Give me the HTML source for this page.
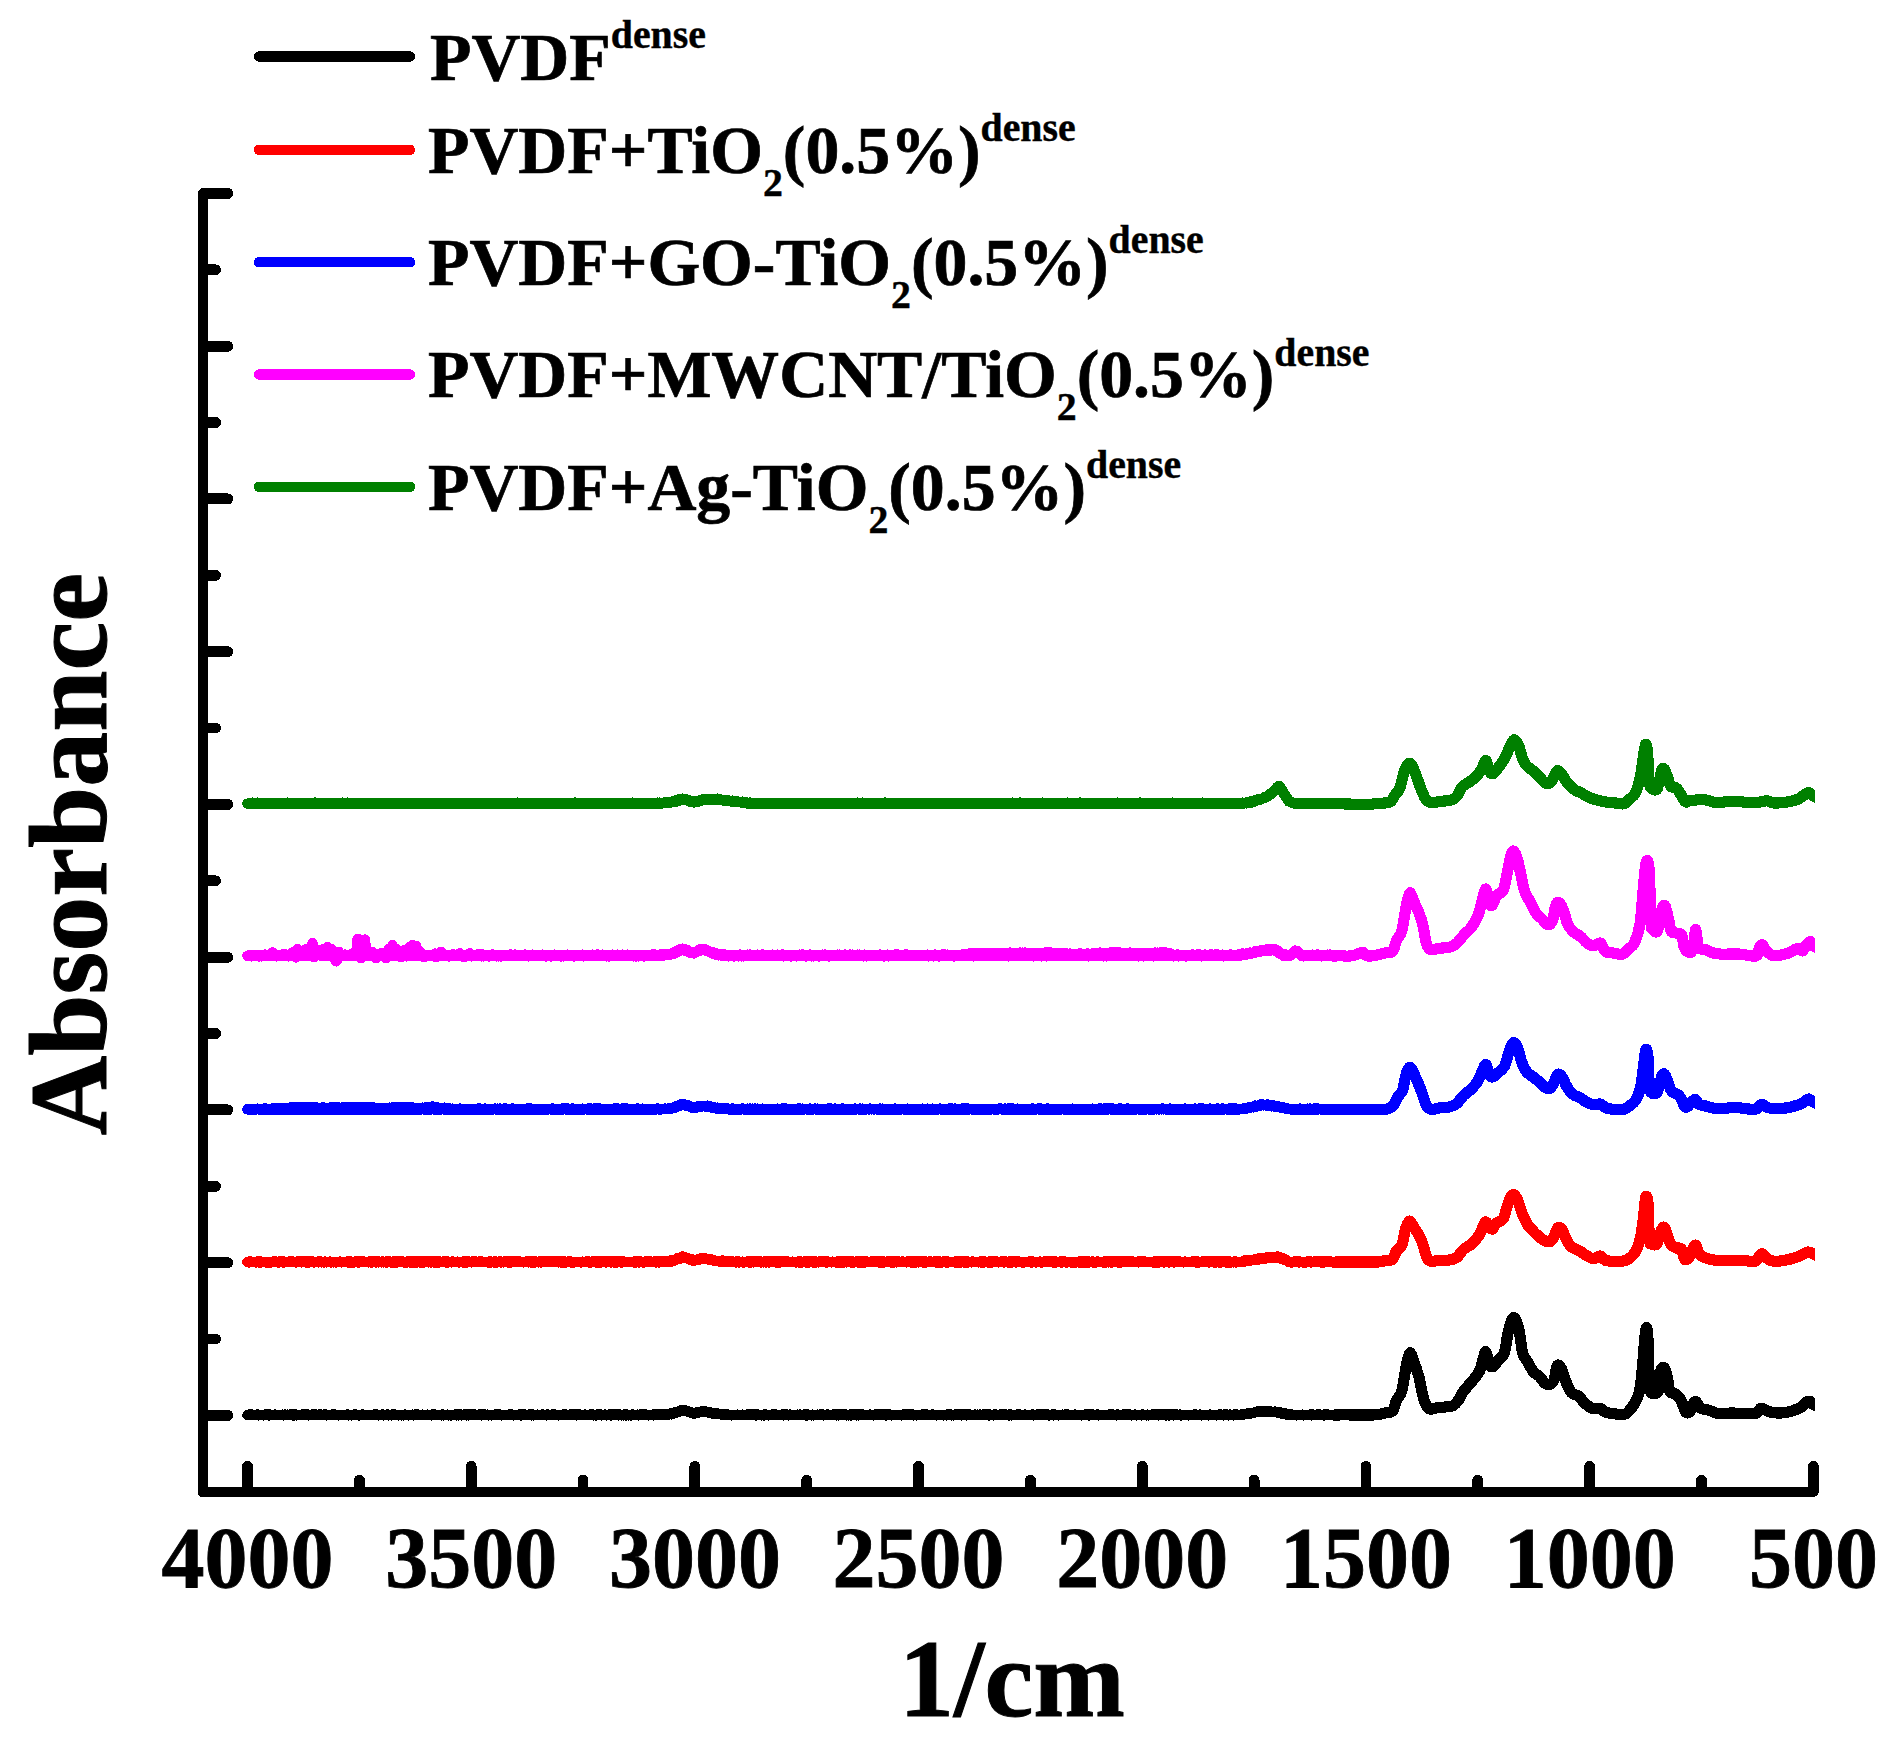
<!DOCTYPE html>
<html lang="en"><head><meta charset="utf-8"><title>FTIR Absorbance – PVDF dense membranes</title>
<style>
html,body{margin:0;padding:0;background:#fff;}
body{width:1902px;height:1756px;overflow:hidden;}
svg{display:block;}
text{font-family:"Liberation Serif",serif;font-weight:bold;fill:#000;}
.tk{font-size:86px;text-anchor:middle;stroke:#000;stroke-width:0.8px;}
.lg{font-size:67.8px;stroke:#000;stroke-width:0.7px;}
.ss{font-size:39.8px;stroke-width:0.4px;}
.ttl{font-size:110px;text-anchor:middle;stroke:#000;stroke-width:1px;}
</style></head><body>
<svg width="1902" height="1756" viewBox="0 0 1902 1756">
<rect width="1902" height="1756" fill="#fff"/>
<g fill="none" stroke="#000" stroke-linecap="round" stroke-linejoin="round" shape-rendering="crispEdges">
<path stroke-width="10" d="M202.9 193.4 V1491.9 H1813.5"/>
<path stroke="none" fill="#000" d="M197.9 1488 H208 V1496.9 H200 L197.9 1494.8 Z"/>
<g stroke-width="10.9">
<path d="M203.4 1415.4 H227.8"/>
<path d="M203.4 1339.0 H215.5"/>
<path d="M203.4 1262.7 H227.8"/>
<path d="M203.4 1186.3 H215.5"/>
<path d="M203.4 1109.9 H227.8"/>
<path d="M203.4 1033.5 H215.5"/>
<path d="M203.4 957.2 H227.8"/>
<path d="M203.4 880.8 H215.5"/>
<path d="M203.4 804.4 H227.8"/>
<path d="M203.4 728.0 H215.5"/>
<path d="M203.4 651.7 H227.8"/>
<path d="M203.4 575.3 H215.5"/>
<path d="M203.4 498.9 H227.8"/>
<path d="M203.4 422.5 H215.5"/>
<path d="M203.4 346.2 H227.8"/>
<path d="M203.4 269.8 H215.5"/>
<path d="M203.4 193.4 H227.8"/>
<path d="M247.5 1491.4 V1466.4"/>
<path d="M359.4 1491.4 V1480.2"/>
<path d="M471.2 1491.4 V1466.4"/>
<path d="M583.0 1491.4 V1480.2"/>
<path d="M694.9 1491.4 V1466.4"/>
<path d="M806.8 1491.4 V1480.2"/>
<path d="M918.6 1491.4 V1466.4"/>
<path d="M1030.4 1491.4 V1480.2"/>
<path d="M1142.3 1491.4 V1466.4"/>
<path d="M1254.1 1491.4 V1480.2"/>
<path d="M1366.0 1491.4 V1466.4"/>
<path d="M1477.8 1491.4 V1480.2"/>
<path d="M1589.7 1491.4 V1466.4"/>
<path d="M1701.5 1491.4 V1480.2"/>
<path d="M1813.4 1491.4 V1466.4"/>
</g></g>
<defs><clipPath id="plotclip"><rect x="200" y="150" width="1614.9" height="1340"/></clipPath></defs>
<g fill="none" stroke-width="10.5" stroke-linecap="round" stroke-linejoin="round" clip-path="url(#plotclip)" shape-rendering="crispEdges">
<path stroke="#000000" d="M247.5 1415.0L248.8 1415.2L250.0 1414.4L251.2 1415.2L252.5 1414.7L253.8 1415.2L255.0 1414.9L256.2 1415.2L257.5 1414.6L258.8 1415.3L260.0 1414.9L261.2 1415.1L262.5 1414.9L263.8 1415.3L265.0 1414.6L266.2 1415.0L267.5 1414.4L268.8 1415.3L270.0 1414.6L271.2 1415.2L272.5 1414.9L273.8 1415.0L275.0 1414.7L276.2 1415.0L277.5 1414.9L278.8 1415.1L280.0 1415.0L281.2 1415.2L282.5 1414.7L283.8 1415.3L285.0 1414.7L286.2 1415.2L287.5 1414.7L288.8 1415.2L290.0 1414.7L291.2 1415.1L292.5 1414.4L293.8 1415.4L295.0 1414.5L296.2 1415.3L297.5 1414.8L298.8 1415.1L300.0 1414.8L301.2 1415.0L302.5 1414.5L303.8 1415.1L305.0 1414.5L306.2 1415.1L307.5 1414.4L308.8 1415.3L310.0 1415.0L311.2 1415.1L312.5 1414.5L313.8 1415.2L315.0 1414.4L316.2 1415.1L317.5 1415.0L318.8 1415.2L320.0 1414.5L321.2 1415.1L322.5 1414.9L323.8 1415.1L325.0 1414.4L326.2 1415.3L327.5 1414.9L328.8 1415.1L330.0 1414.9L331.2 1415.0L332.5 1414.5L333.8 1415.1L335.0 1414.7L336.2 1415.2L337.5 1414.9L338.8 1415.3L340.0 1414.9L341.2 1415.2L342.5 1414.9L343.8 1415.2L345.0 1414.9L346.2 1415.1L347.5 1414.4L348.8 1415.3L350.0 1414.8L351.2 1415.3L352.5 1414.9L353.8 1415.1L355.0 1414.5L356.2 1415.2L357.5 1414.9L358.8 1415.4L360.0 1414.9L361.2 1415.1L362.5 1414.5L363.8 1415.1L365.0 1414.8L366.2 1415.0L367.5 1414.9L368.8 1415.2L370.0 1414.9L371.2 1415.2L372.5 1414.8L373.8 1415.2L375.0 1414.4L376.2 1415.2L377.5 1414.7L378.8 1415.3L380.0 1414.9L381.2 1415.1L382.5 1414.5L383.8 1415.3L385.0 1414.9L386.2 1415.1L387.5 1414.6L388.8 1415.3L390.0 1414.9L391.2 1415.3L392.5 1414.5L393.8 1415.2L395.0 1414.7L396.2 1415.0L397.5 1415.0L398.8 1415.3L400.0 1414.9L401.2 1415.3L402.5 1414.8L403.8 1415.3L405.0 1414.6L406.2 1415.1L407.5 1414.9L408.8 1415.3L410.0 1415.0L411.2 1415.1L412.5 1414.7L413.8 1415.3L415.0 1414.6L416.2 1415.1L417.5 1414.4L418.8 1415.1L420.0 1415.0L421.2 1415.1L422.5 1414.7L423.8 1415.0L425.0 1414.9L426.2 1415.1L427.5 1414.7L428.8 1415.0L430.0 1414.8L431.2 1415.3L432.5 1414.4L433.8 1415.2L435.0 1414.6L436.2 1415.2L437.5 1414.9L438.8 1415.0L440.0 1415.0L441.2 1415.3L442.5 1414.6L443.8 1415.3L445.0 1415.0L446.2 1415.2L447.5 1414.7L448.8 1415.3L450.0 1414.8L451.2 1415.4L452.5 1415.0L453.8 1415.2L455.0 1414.6L456.2 1415.3L457.5 1414.6L458.8 1415.3L460.0 1414.5L461.2 1415.3L462.5 1414.8L463.8 1415.2L465.0 1414.5L466.2 1415.3L467.5 1414.7L468.8 1415.3L470.0 1414.5L471.2 1415.2L472.5 1414.6L473.8 1415.1L475.0 1414.7L476.2 1415.2L477.5 1415.0L478.8 1415.2L480.0 1414.4L481.2 1415.3L482.5 1414.6L483.8 1415.1L485.0 1414.6L486.2 1415.2L487.5 1414.7L488.8 1415.3L490.0 1414.9L491.2 1415.3L492.5 1415.0L493.8 1415.2L495.0 1414.7L496.2 1415.1L497.5 1414.6L498.8 1415.2L500.0 1414.6L501.2 1415.3L502.5 1414.8L503.8 1415.0L505.0 1414.8L506.2 1415.2L507.5 1414.9L508.8 1415.1L510.0 1414.5L511.2 1415.2L512.5 1414.7L513.8 1415.3L515.0 1414.8L516.2 1415.2L517.5 1414.9L518.8 1415.2L520.0 1414.5L521.2 1415.3L522.5 1414.5L523.8 1415.1L525.0 1414.7L526.2 1415.1L527.5 1414.9L528.8 1415.2L530.0 1414.5L531.2 1415.3L532.5 1414.6L533.8 1415.3L535.0 1414.8L536.2 1415.1L537.5 1414.7L538.8 1415.1L540.0 1414.9L541.2 1415.1L542.5 1414.6L543.8 1415.2L545.0 1414.8L546.2 1415.3L547.5 1414.4L548.8 1415.2L550.0 1415.0L551.2 1415.0L552.5 1414.5L553.8 1415.0L555.0 1414.6L556.2 1415.2L557.5 1414.8L558.8 1415.3L560.0 1415.0L561.2 1415.0L562.5 1414.7L563.8 1415.0L565.0 1414.5L566.2 1415.1L567.5 1414.9L568.8 1415.0L570.0 1414.6L571.2 1415.2L572.5 1414.6L573.8 1415.2L575.0 1414.5L576.2 1415.3L577.5 1414.6L578.8 1415.1L580.0 1414.7L581.2 1415.1L582.5 1415.0L583.8 1415.2L585.0 1414.6L586.2 1415.1L587.5 1414.8L588.8 1415.1L590.0 1414.6L591.2 1415.2L592.5 1414.6L593.8 1415.3L595.0 1414.8L596.2 1415.3L597.5 1414.5L598.8 1415.0L600.0 1414.4L601.2 1415.3L602.5 1414.9L603.8 1415.2L605.0 1414.6L606.2 1415.3L607.5 1414.8L608.8 1415.2L610.0 1414.5L611.2 1415.3L612.5 1414.4L613.8 1415.2L615.0 1414.6L616.2 1415.1L617.5 1414.6L618.8 1415.3L620.0 1414.6L621.2 1415.3L622.5 1414.9L623.8 1415.3L625.0 1414.4L626.2 1415.4L627.5 1414.7L628.8 1415.3L630.0 1414.8L631.2 1415.3L632.5 1414.5L633.8 1415.1L635.0 1415.0L636.2 1415.2L637.5 1414.7L638.8 1415.3L640.0 1414.7L641.2 1415.0L642.5 1414.5L643.8 1415.0L645.0 1414.5L646.2 1415.1L647.5 1414.8L648.8 1415.3L650.0 1414.9L651.2 1415.1L652.5 1414.7L653.8 1415.3L655.0 1414.5L656.2 1415.2L657.5 1414.4L658.8 1415.2L660.0 1414.4L661.2 1414.9L662.5 1414.7L663.8 1414.9L665.0 1414.4L666.2 1414.7L667.5 1414.0L668.8 1414.5L670.0 1413.7L671.2 1414.3L672.5 1413.6L673.8 1413.5L675.0 1412.4L676.2 1412.8L677.5 1411.9L678.8 1411.9L680.0 1410.5L681.2 1410.8L682.5 1409.8L683.8 1410.3L685.0 1410.4L686.2 1411.3L687.5 1411.2L688.8 1412.0L690.0 1411.9L691.2 1413.1L692.5 1413.1L693.8 1413.7L695.0 1412.8L696.2 1413.1L697.5 1412.3L698.8 1412.5L700.0 1411.9L701.2 1412.1L702.5 1411.2L703.8 1411.9L705.0 1411.5L706.2 1412.1L707.5 1412.2L708.8 1412.6L710.0 1412.3L711.2 1413.3L712.5 1413.0L713.8 1413.6L715.0 1413.7L716.2 1414.2L717.5 1413.6L718.8 1414.2L720.0 1413.8L721.2 1414.4L722.5 1414.3L723.8 1414.6L725.0 1414.2L726.2 1414.8L727.5 1414.6L728.8 1415.1L730.0 1414.9L731.2 1415.3L732.5 1414.9L733.8 1415.2L735.0 1414.8L736.2 1415.1L737.5 1414.7L738.8 1415.2L740.0 1414.8L741.2 1415.1L742.5 1414.7L743.8 1415.1L745.0 1414.9L746.2 1415.2L747.5 1414.6L748.8 1415.2L750.0 1414.5L751.2 1415.2L752.5 1414.5L753.8 1415.1L755.0 1414.6L756.2 1415.3L757.5 1414.5L758.8 1415.1L760.0 1414.8L761.2 1415.3L762.5 1414.9L763.8 1415.4L765.0 1414.5L766.2 1415.0L767.5 1414.9L768.8 1415.3L770.0 1414.8L771.2 1415.0L772.5 1414.5L773.8 1415.2L775.0 1414.5L776.2 1415.0L777.5 1414.8L778.8 1415.2L780.0 1415.0L781.2 1415.1L782.5 1414.6L783.8 1415.3L785.0 1414.4L786.2 1415.0L787.5 1414.7L788.8 1415.3L790.0 1414.7L791.2 1415.2L792.5 1414.9L793.8 1415.0L795.0 1414.9L796.2 1415.0L797.5 1414.7L798.8 1415.2L800.0 1414.7L801.2 1415.1L802.5 1414.9L803.8 1415.1L805.0 1414.5L806.2 1415.4L807.5 1414.4L808.8 1415.0L810.0 1415.0L811.2 1415.3L812.5 1414.7L813.8 1415.3L815.0 1414.8L816.2 1415.2L817.5 1414.7L818.8 1415.2L820.0 1414.6L821.2 1415.0L822.5 1414.6L823.8 1415.3L825.0 1414.9L826.2 1415.2L827.5 1414.6L828.8 1415.1L830.0 1414.9L831.2 1415.1L832.5 1414.7L833.8 1415.0L835.0 1414.5L836.2 1415.3L837.5 1414.6L838.8 1415.3L840.0 1414.6L841.2 1415.1L842.5 1414.6L843.8 1415.2L845.0 1414.4L846.2 1415.3L847.5 1414.8L848.8 1415.3L850.0 1414.6L851.2 1415.3L852.5 1414.5L853.8 1415.1L855.0 1414.5L856.2 1415.3L857.5 1414.6L858.8 1415.3L860.0 1414.5L861.2 1415.1L862.5 1414.6L863.8 1415.0L865.0 1414.8L866.2 1415.2L867.5 1415.0L868.8 1415.1L870.0 1414.6L871.2 1415.2L872.5 1414.9L873.8 1415.3L875.0 1414.6L876.2 1415.1L877.5 1414.6L878.8 1415.2L880.0 1414.7L881.2 1415.1L882.5 1414.4L883.8 1415.2L885.0 1414.6L886.2 1415.3L887.5 1414.4L888.8 1415.0L890.0 1414.6L891.2 1415.3L892.5 1414.8L893.8 1415.1L895.0 1415.0L896.2 1415.1L897.5 1414.8L898.8 1415.0L900.0 1414.8L901.2 1415.3L902.5 1414.7L903.8 1415.2L905.0 1414.4L906.2 1415.2L907.5 1414.4L908.8 1415.2L910.0 1414.5L911.2 1415.0L912.5 1414.6L913.8 1415.3L915.0 1415.0L916.2 1415.3L917.5 1414.9L918.8 1415.2L920.0 1414.9L921.2 1415.2L922.5 1414.6L923.8 1415.0L925.0 1414.4L926.2 1415.2L927.5 1414.7L928.8 1415.2L930.0 1414.8L931.2 1415.1L932.5 1414.6L933.8 1415.2L935.0 1414.8L936.2 1415.3L937.5 1414.8L938.8 1415.0L940.0 1414.9L941.2 1415.0L942.5 1414.9L943.8 1415.3L945.0 1414.8L946.2 1415.3L947.5 1414.6L948.8 1415.0L950.0 1414.4L951.2 1415.3L952.5 1415.0L953.8 1415.3L955.0 1414.7L956.2 1415.2L957.5 1414.4L958.8 1415.1L960.0 1414.7L961.2 1415.3L962.5 1414.6L963.8 1415.2L965.0 1414.4L966.2 1415.3L967.5 1414.6L968.8 1415.0L970.0 1414.6L971.2 1415.2L972.5 1414.9L973.8 1415.0L975.0 1414.7L976.2 1415.0L977.5 1414.7L978.8 1415.2L980.0 1414.7L981.2 1415.1L982.5 1414.7L983.8 1415.2L985.0 1414.5L986.2 1415.2L987.5 1414.4L988.8 1415.3L990.0 1414.6L991.2 1415.1L992.5 1414.9L993.8 1415.3L995.0 1414.5L996.2 1415.2L997.5 1414.8L998.8 1415.1L1000.0 1414.6L1001.2 1415.2L1002.5 1414.6L1003.8 1415.2L1005.0 1414.5L1006.2 1415.1L1007.5 1414.9L1008.8 1415.4L1010.0 1414.5L1011.2 1415.3L1012.5 1415.0L1013.8 1415.0L1015.0 1414.8L1016.2 1415.2L1017.5 1414.6L1018.8 1415.0L1020.0 1414.7L1021.2 1415.0L1022.5 1414.9L1023.8 1415.2L1025.0 1414.7L1026.2 1415.2L1027.5 1414.8L1028.8 1415.2L1030.0 1414.9L1031.2 1415.1L1032.5 1414.6L1033.8 1415.3L1035.0 1415.0L1036.2 1415.0L1037.5 1414.5L1038.8 1415.2L1040.0 1414.5L1041.2 1415.1L1042.5 1414.7L1043.8 1415.1L1045.0 1414.5L1046.2 1415.1L1047.5 1414.6L1048.8 1415.4L1050.0 1414.8L1051.2 1415.2L1052.5 1414.6L1053.8 1415.3L1055.0 1414.7L1056.2 1415.1L1057.5 1414.9L1058.8 1415.3L1060.0 1415.0L1061.2 1415.0L1062.5 1414.7L1063.8 1415.2L1065.0 1414.6L1066.2 1415.1L1067.5 1414.5L1068.8 1415.0L1070.0 1414.9L1071.2 1415.2L1072.5 1415.0L1073.8 1415.1L1075.0 1414.6L1076.2 1415.2L1077.5 1414.8L1078.8 1415.1L1080.0 1414.8L1081.2 1415.3L1082.5 1414.8L1083.8 1415.0L1085.0 1414.6L1086.2 1415.2L1087.5 1414.4L1088.8 1415.3L1090.0 1414.5L1091.2 1415.2L1092.5 1414.5L1093.8 1415.1L1095.0 1414.8L1096.2 1415.1L1097.5 1414.4L1098.8 1415.3L1100.0 1414.9L1101.2 1415.1L1102.5 1414.8L1103.8 1415.1L1105.0 1414.8L1106.2 1415.1L1107.5 1414.9L1108.8 1415.2L1110.0 1414.5L1111.2 1415.2L1112.5 1414.5L1113.8 1415.2L1115.0 1414.9L1116.2 1415.3L1117.5 1414.5L1118.8 1415.1L1120.0 1415.0L1121.2 1415.2L1122.5 1414.7L1123.8 1415.2L1125.0 1414.4L1126.2 1415.2L1127.5 1414.5L1128.8 1415.0L1130.0 1414.7L1131.2 1415.3L1132.5 1414.9L1133.8 1415.0L1135.0 1414.6L1136.2 1415.3L1137.5 1414.9L1138.8 1415.2L1140.0 1414.9L1141.2 1415.3L1142.5 1414.6L1143.8 1415.1L1145.0 1414.9L1146.2 1415.3L1147.5 1414.7L1148.8 1415.3L1150.0 1414.8L1151.2 1415.1L1152.5 1414.4L1153.8 1415.2L1155.0 1414.7L1156.2 1415.2L1157.5 1414.6L1158.8 1415.3L1160.0 1414.5L1161.2 1415.1L1162.5 1414.5L1163.8 1415.2L1165.0 1414.5L1166.2 1415.3L1167.5 1414.5L1168.8 1415.3L1170.0 1414.4L1171.2 1415.2L1172.5 1414.7L1173.8 1415.3L1175.0 1414.5L1176.2 1415.2L1177.5 1414.7L1178.8 1415.1L1180.0 1414.6L1181.2 1415.4L1182.5 1414.8L1183.8 1415.1L1185.0 1414.9L1186.2 1415.2L1187.5 1414.8L1188.8 1415.3L1190.0 1415.0L1191.2 1415.1L1192.5 1414.9L1193.8 1415.2L1195.0 1414.5L1196.2 1415.1L1197.5 1415.0L1198.8 1415.2L1200.0 1414.6L1201.2 1415.3L1202.5 1415.0L1203.8 1415.0L1205.0 1414.9L1206.2 1415.1L1207.5 1414.9L1208.8 1415.3L1210.0 1414.6L1211.2 1415.1L1212.5 1414.9L1213.8 1415.1L1215.0 1414.9L1216.2 1415.3L1217.5 1414.8L1218.8 1415.2L1220.0 1414.5L1221.2 1415.2L1222.5 1414.8L1223.8 1415.3L1225.0 1414.5L1226.2 1415.1L1227.5 1414.7L1228.8 1415.3L1230.0 1414.7L1231.2 1415.1L1232.5 1415.0L1233.8 1415.3L1235.0 1414.5L1236.2 1415.1L1237.5 1414.7L1238.8 1415.2L1240.0 1414.8L1241.2 1415.1L1242.5 1414.2L1243.8 1414.5L1245.0 1414.2L1246.2 1414.1L1247.5 1413.5L1248.8 1413.8L1250.0 1412.9L1251.2 1413.3L1252.5 1412.8L1253.8 1412.7L1255.0 1412.2L1256.2 1412.2L1257.5 1411.4L1258.8 1411.8L1260.0 1411.0L1261.2 1411.5L1262.5 1410.9L1263.8 1411.3L1265.0 1411.1L1266.2 1411.6L1267.5 1411.4L1268.8 1411.8L1270.0 1411.1L1271.2 1412.0L1272.5 1411.8L1273.8 1412.0L1275.0 1411.6L1276.2 1412.3L1277.5 1412.2L1278.8 1412.9L1280.0 1412.4L1281.2 1413.5L1282.5 1413.0L1283.8 1413.9L1285.0 1413.5L1286.2 1414.4L1287.5 1413.9L1288.8 1414.8L1290.0 1414.5L1291.2 1415.1L1292.5 1414.7L1293.8 1415.2L1295.0 1414.9L1296.2 1415.3L1297.5 1414.8L1298.8 1415.1L1300.0 1415.0L1301.2 1415.1L1302.5 1414.7L1303.8 1415.3L1305.0 1414.8L1306.2 1415.2L1307.5 1414.9L1308.8 1415.1L1310.0 1414.7L1311.2 1415.3L1312.5 1414.5L1313.8 1415.2L1315.0 1415.0L1316.2 1415.1L1317.5 1414.6L1318.8 1415.1L1320.0 1414.7L1321.2 1415.2L1322.5 1415.0L1323.8 1415.4L1325.0 1414.5L1326.2 1415.1L1327.5 1414.6L1328.8 1415.1L1330.0 1414.8L1331.2 1415.2L1332.5 1414.8L1333.8 1415.1"/>
<path stroke="#000000" stroke-width="11.2" d="M1333.8 1415.1C1334.8 1415.1 1333.8 1414.9 1340.0 1414.9C1346.7 1414.8 1366.7 1415.2 1374.2 1414.9C1381.6 1414.6 1381.6 1413.7 1384.7 1413.0C1387.8 1412.4 1390.6 1413.0 1392.6 1410.9C1394.5 1408.8 1395.0 1403.7 1396.5 1400.4C1398.1 1397.1 1400.2 1396.5 1401.8 1391.2C1403.3 1386.0 1404.4 1375.2 1405.7 1368.9C1407.0 1362.5 1408.3 1354.4 1409.7 1353.1C1411.0 1351.8 1412.1 1357.0 1413.6 1361.0C1415.1 1364.9 1417.1 1370.2 1418.9 1376.8C1420.6 1383.3 1422.4 1395.1 1424.1 1400.4C1425.9 1405.8 1427.2 1407.6 1429.4 1408.8C1431.6 1410.0 1434.6 1408.1 1437.3 1407.8C1439.9 1407.5 1442.5 1407.3 1445.2 1407.0C1447.8 1406.6 1450.8 1406.8 1453.0 1405.7C1455.2 1404.6 1456.5 1402.8 1458.3 1400.4C1460.0 1398.0 1461.4 1394.3 1463.6 1391.2C1465.7 1388.1 1468.8 1385.3 1471.4 1382.0C1474.1 1378.7 1477.4 1375.4 1479.3 1371.5C1481.3 1367.5 1482.2 1361.6 1483.3 1358.3C1484.4 1355.1 1484.8 1350.7 1485.9 1351.8C1487.0 1352.9 1488.5 1362.5 1489.8 1364.9C1491.2 1367.3 1492.5 1366.9 1493.8 1366.2C1495.1 1365.6 1496.0 1363.2 1497.7 1361.0C1499.5 1358.8 1502.5 1357.9 1504.3 1353.1C1506.1 1348.3 1506.7 1338.0 1508.2 1332.1C1509.8 1326.1 1511.7 1318.0 1513.5 1317.6C1515.3 1317.2 1517.2 1323.5 1518.8 1329.4C1520.3 1335.3 1521.2 1347.6 1522.7 1353.1C1524.2 1358.6 1526.2 1359.2 1528.0 1362.3C1529.7 1365.4 1531.2 1369.1 1533.2 1371.5C1535.2 1373.9 1537.8 1374.8 1539.8 1376.8C1541.8 1378.7 1543.3 1382.1 1545.0 1383.3C1546.8 1384.5 1548.8 1384.8 1550.3 1384.1C1551.8 1383.5 1553.2 1382.4 1554.2 1379.4C1555.3 1376.4 1555.8 1368.2 1556.9 1366.2C1558.0 1364.3 1559.3 1364.9 1560.8 1367.5C1562.4 1370.2 1564.3 1377.8 1566.1 1382.0C1567.8 1386.2 1569.1 1390.1 1571.3 1392.5C1573.5 1394.9 1577.0 1394.7 1579.2 1396.5C1581.4 1398.2 1582.3 1401.1 1584.5 1403.0C1586.7 1405.0 1589.7 1407.4 1592.4 1408.3C1595.0 1409.2 1598.1 1407.6 1600.3 1408.3C1602.4 1409.0 1603.3 1411.4 1605.5 1412.2C1607.7 1413.1 1610.5 1413.1 1613.4 1413.6C1616.2 1414.0 1620.2 1415.1 1622.6 1414.9C1625.0 1414.6 1626.0 1414.0 1627.9 1412.2C1629.7 1410.5 1632.0 1407.6 1633.9 1404.4C1635.8 1401.1 1637.8 1398.4 1639.2 1392.5C1640.6 1386.6 1641.4 1377.7 1642.3 1368.9C1643.2 1360.0 1644.0 1346.3 1644.7 1339.4C1645.4 1332.5 1645.9 1327.3 1646.5 1327.6C1647.1 1327.9 1647.7 1333.1 1648.1 1341.3C1648.5 1349.5 1648.8 1368.4 1649.1 1376.8C1649.5 1385.1 1649.5 1388.4 1650.5 1391.2C1651.4 1394.0 1653.3 1393.8 1654.7 1393.6C1656.1 1393.4 1657.9 1393.6 1658.9 1389.9C1659.9 1386.2 1659.9 1375.2 1660.7 1371.5C1661.5 1367.8 1662.8 1366.7 1663.9 1367.5C1665.0 1368.4 1666.3 1372.8 1667.3 1376.8C1668.3 1380.7 1668.6 1388.4 1669.9 1391.2C1671.2 1394.1 1673.4 1392.5 1675.2 1393.8C1676.9 1395.2 1679.1 1397.1 1680.4 1399.1C1681.7 1401.1 1682.1 1403.4 1683.1 1405.7C1684.0 1407.9 1684.8 1411.5 1686.0 1412.5C1687.1 1413.5 1688.9 1412.9 1690.2 1411.5C1691.4 1410.0 1692.4 1405.2 1693.3 1403.6C1694.2 1401.9 1694.9 1401.3 1695.7 1401.5C1696.5 1401.6 1697.2 1403.5 1698.0 1404.6C1698.9 1405.8 1699.0 1407.4 1700.7 1408.3C1702.3 1409.2 1705.1 1409.0 1708.0 1409.9C1711.0 1410.8 1714.6 1413.0 1718.5 1413.6C1722.5 1414.1 1727.7 1413.0 1731.7 1413.0C1735.6 1413.0 1738.3 1413.5 1742.2 1413.6C1746.2 1413.6 1752.3 1414.4 1755.4 1413.6C1758.4 1412.7 1759.1 1409.0 1760.6 1408.3C1762.1 1407.6 1762.8 1409.0 1764.6 1409.6C1766.3 1410.3 1768.3 1411.7 1771.1 1412.2C1774.0 1412.8 1778.1 1413.2 1781.6 1413.0C1785.1 1412.8 1788.9 1411.9 1792.2 1410.9C1795.4 1409.9 1798.9 1408.5 1801.4 1407.0C1803.8 1405.4 1805.1 1402.6 1806.6 1401.7C1808.1 1400.8 1809.5 1401.3 1810.6 1401.7C1811.7 1402.2 1811.4 1403.2 1813.2 1404.4C1815.0 1405.5 1819.9 1407.7 1821.2 1408.4"/>
<path stroke="#ff0000" d="M247.5 1262.0L248.8 1262.4L250.0 1261.4L251.2 1262.1L252.5 1262.0L253.8 1262.2L255.0 1261.8L256.2 1262.4L257.5 1261.4L258.8 1262.3L260.0 1261.5L261.2 1262.4L262.5 1261.9L263.8 1262.2L265.0 1261.9L266.2 1262.5L267.5 1261.9L268.8 1262.4L270.0 1261.9L271.2 1262.4L272.5 1261.7L273.8 1262.2L275.0 1261.2L276.2 1262.0L277.5 1261.9L278.8 1262.5L280.0 1261.5L281.2 1262.0L282.5 1261.1L283.8 1262.5L285.0 1261.9L286.2 1262.2L287.5 1261.9L288.8 1262.2L290.0 1261.4L291.2 1262.1L292.5 1261.4L293.8 1262.0L295.0 1261.8L296.2 1262.4L297.5 1261.6L298.8 1262.2L300.0 1261.5L301.2 1262.3L302.5 1261.7L303.8 1262.0L305.0 1261.3L306.2 1262.5L307.5 1261.1L308.8 1262.4L310.0 1261.7L311.2 1262.2L312.5 1261.4L313.8 1262.4L315.0 1261.9L316.2 1262.1L317.5 1261.7L318.8 1262.3L320.0 1261.3L321.2 1262.3L322.5 1262.0L323.8 1262.4L325.0 1261.6L326.2 1262.3L327.5 1261.8L328.8 1262.2L330.0 1261.7L331.2 1262.4L332.5 1261.9L333.8 1262.3L335.0 1261.8L336.2 1262.4L337.5 1262.0L338.8 1262.1L340.0 1261.7L341.2 1262.3L342.5 1262.0L343.8 1262.2L345.0 1261.8L346.2 1262.2L347.5 1261.6L348.8 1262.5L350.0 1261.6L351.2 1262.5L352.5 1261.8L353.8 1262.5L355.0 1261.7L356.2 1262.1L357.5 1261.3L358.8 1262.5L360.0 1262.0L361.2 1262.1L362.5 1261.3L363.8 1262.2L365.0 1261.8L366.2 1262.0L367.5 1262.0L368.8 1262.3L370.0 1261.1L371.2 1262.5L372.5 1261.5L373.8 1262.0L375.0 1261.7L376.2 1262.4L377.5 1261.3L378.8 1262.3L380.0 1261.8L381.2 1262.3L382.5 1261.6L383.8 1262.3L385.0 1261.8L386.2 1262.5L387.5 1261.2L388.8 1262.1L390.0 1261.7L391.2 1262.5L392.5 1261.7L393.8 1262.5L395.0 1261.5L396.2 1262.4L397.5 1261.4L398.8 1262.1L400.0 1261.7L401.2 1262.1L402.5 1261.4L403.8 1262.4L405.0 1261.9L406.2 1262.5L407.5 1261.6L408.8 1262.1L410.0 1261.6L411.2 1262.5L412.5 1261.5L413.8 1262.3L415.0 1261.2L416.2 1262.5L417.5 1261.3L418.8 1262.2L420.0 1261.5L421.2 1262.5L422.5 1261.3L423.8 1262.3L425.0 1261.7L426.2 1262.2L427.5 1261.3L428.8 1262.3L430.0 1262.0L431.2 1262.4L432.5 1261.2L433.8 1262.4L435.0 1261.2L436.2 1262.5L437.5 1261.5L438.8 1262.4L440.0 1261.7L441.2 1262.1L442.5 1261.7L443.8 1262.2L445.0 1261.2L446.2 1262.4L447.5 1261.5L448.8 1262.3L450.0 1261.9L451.2 1262.3L452.5 1261.4L453.8 1262.2L455.0 1261.8L456.2 1262.2L457.5 1261.7L458.8 1262.4L460.0 1261.9L461.2 1262.0L462.5 1261.7L463.8 1262.4L465.0 1261.3L466.2 1262.4L467.5 1261.2L468.8 1262.2L470.0 1262.0L471.2 1262.3L472.5 1261.6L473.8 1262.1L475.0 1261.4L476.2 1262.2L477.5 1261.8L478.8 1262.2L480.0 1261.2L481.2 1262.0L482.5 1261.7L483.8 1262.2L485.0 1261.8L486.2 1262.2L487.5 1261.8L488.8 1262.5L490.0 1261.5L491.2 1262.4L492.5 1261.9L493.8 1262.3L495.0 1261.5L496.2 1262.5L497.5 1261.8L498.8 1262.2L500.0 1261.2L501.2 1262.4L502.5 1261.8L503.8 1262.3L505.0 1261.3L506.2 1262.2L507.5 1261.4L508.8 1262.4L510.0 1261.1L511.2 1262.3L512.5 1261.4L513.8 1262.2L515.0 1261.3L516.2 1262.2L517.5 1261.6L518.8 1262.2L520.0 1261.7L521.2 1262.1L522.5 1261.8L523.8 1262.3L525.0 1261.8L526.2 1262.0L527.5 1261.3L528.8 1262.2L530.0 1261.2L531.2 1262.3L532.5 1261.6L533.8 1262.5L535.0 1261.2L536.2 1262.2L537.5 1261.9L538.8 1262.3L540.0 1261.2L541.2 1262.3L542.5 1261.3L543.8 1262.2L545.0 1261.4L546.2 1262.1L547.5 1261.6L548.8 1262.2L550.0 1261.7L551.2 1262.2L552.5 1261.3L553.8 1262.1L555.0 1261.8L556.2 1262.1L557.5 1261.1L558.8 1262.3L560.0 1262.0L561.2 1262.5L562.5 1261.2L563.8 1262.4L565.0 1261.7L566.2 1262.4L567.5 1261.7L568.8 1262.1L570.0 1261.2L571.2 1262.4L572.5 1261.8L573.8 1262.5L575.0 1262.0L576.2 1262.2L577.5 1262.0L578.8 1262.1L580.0 1261.9L581.2 1262.4L582.5 1261.7L583.8 1262.1L585.0 1261.8L586.2 1262.2L587.5 1261.2L588.8 1262.3L590.0 1261.9L591.2 1262.4L592.5 1261.5L593.8 1262.2L595.0 1261.5L596.2 1262.4L597.5 1261.3L598.8 1262.3L600.0 1261.4L601.2 1262.3L602.5 1261.4L603.8 1262.2L605.0 1261.6L606.2 1262.3L607.5 1261.4L608.8 1262.2L610.0 1261.2L611.2 1262.3L612.5 1261.2L613.8 1262.4L615.0 1261.1L616.2 1262.4L617.5 1261.6L618.8 1262.2L620.0 1261.5L621.2 1262.4L622.5 1261.2L623.8 1262.1L625.0 1261.9L626.2 1262.1L627.5 1261.9L628.8 1262.0L630.0 1262.0L631.2 1262.1L632.5 1261.9L633.8 1262.4L635.0 1261.4L636.2 1262.5L637.5 1261.1L638.8 1262.4L640.0 1261.1L641.2 1262.0L642.5 1261.8L643.8 1262.5L645.0 1261.6L646.2 1262.1L647.5 1261.3L648.8 1262.2L650.0 1261.5L651.2 1262.2L652.5 1261.8L653.8 1262.0L655.0 1261.5L656.2 1262.5L657.5 1261.1L658.8 1262.4L660.0 1261.2L661.2 1262.1L662.5 1261.5L663.8 1262.2L665.0 1261.0L666.2 1261.8L667.5 1261.4L668.8 1261.4L670.0 1260.7L671.2 1261.5L672.5 1260.1L673.8 1260.8L675.0 1259.6L676.2 1259.7L677.5 1258.2L678.8 1259.1L680.0 1257.7L681.2 1257.7L682.5 1256.6L683.8 1257.6L685.0 1257.4L686.2 1258.3L687.5 1258.2L688.8 1259.3L690.0 1259.3L691.2 1260.2L692.5 1259.5L693.8 1260.8L695.0 1259.9L696.2 1260.1L697.5 1259.6L698.8 1259.9L700.0 1258.7L701.2 1259.1L702.5 1258.3L703.8 1258.9L705.0 1258.2L706.2 1259.2L707.5 1259.0L708.8 1259.7L710.0 1258.9L711.2 1260.2L712.5 1259.8L713.8 1260.8L715.0 1260.6L716.2 1261.2L717.5 1260.9L718.8 1261.4L720.0 1261.0L721.2 1261.6L722.5 1260.6L723.8 1261.7L725.0 1261.3L726.2 1262.1L727.5 1261.5L728.8 1262.2L730.0 1261.4L731.2 1262.0L732.5 1261.4L733.8 1262.1L735.0 1261.8L736.2 1262.4L737.5 1261.1L738.8 1262.4L740.0 1261.8L741.2 1262.2L742.5 1261.7L743.8 1262.5L745.0 1261.8L746.2 1262.1L747.5 1261.4L748.8 1262.3L750.0 1261.5L751.2 1262.3L752.5 1261.1L753.8 1262.2L755.0 1261.2L756.2 1262.2L757.5 1261.6L758.8 1262.2L760.0 1261.4L761.2 1262.4L762.5 1261.8L763.8 1262.3L765.0 1261.3L766.2 1262.3L767.5 1261.4L768.8 1262.3L770.0 1261.4L771.2 1262.2L772.5 1261.7L773.8 1262.0L775.0 1261.2L776.2 1262.4L777.5 1261.6L778.8 1262.5L780.0 1261.2L781.2 1262.1L782.5 1261.2L783.8 1262.2L785.0 1261.7L786.2 1262.1L787.5 1261.6L788.8 1262.0L790.0 1262.0L791.2 1262.1L792.5 1261.7L793.8 1262.1L795.0 1261.9L796.2 1262.4L797.5 1261.7L798.8 1262.3L800.0 1261.5L801.2 1262.5L802.5 1261.9L803.8 1262.1L805.0 1261.2L806.2 1262.5L807.5 1261.2L808.8 1262.3L810.0 1261.7L811.2 1262.1L812.5 1261.2L813.8 1262.4L815.0 1261.5L816.2 1262.4L817.5 1261.8L818.8 1262.3L820.0 1261.2L821.2 1262.1L822.5 1261.4L823.8 1262.1L825.0 1261.2L826.2 1262.5L827.5 1261.4L828.8 1262.2L830.0 1262.0L831.2 1262.3L832.5 1261.7L833.8 1262.2L835.0 1261.9L836.2 1262.5L837.5 1261.5L838.8 1262.3L840.0 1261.2L841.2 1262.5L842.5 1261.5L843.8 1262.3L845.0 1261.2L846.2 1262.2L847.5 1261.2L848.8 1262.0L850.0 1261.3L851.2 1262.3L852.5 1261.4L853.8 1262.5L855.0 1261.8L856.2 1262.2L857.5 1261.3L858.8 1262.4L860.0 1261.5L861.2 1262.4L862.5 1261.4L863.8 1262.5L865.0 1261.4L866.2 1262.2L867.5 1261.7L868.8 1262.0L870.0 1261.9L871.2 1262.0L872.5 1261.1L873.8 1262.1L875.0 1261.5L876.2 1262.1L877.5 1261.1L878.8 1262.3L880.0 1261.8L881.2 1262.4L882.5 1261.2L883.8 1262.5L885.0 1261.8L886.2 1262.2L887.5 1261.4L888.8 1262.2L890.0 1261.5L891.2 1262.4L892.5 1261.3L893.8 1262.4L895.0 1261.3L896.2 1262.2L897.5 1261.3L898.8 1262.2L900.0 1261.8L901.2 1262.0L902.5 1261.4L903.8 1262.2L905.0 1261.9L906.2 1262.3L907.5 1261.6L908.8 1262.2L910.0 1261.5L911.2 1262.3L912.5 1261.5L913.8 1262.5L915.0 1261.2L916.2 1262.2L917.5 1261.2L918.8 1262.2L920.0 1261.2L921.2 1262.0L922.5 1261.7L923.8 1262.5L925.0 1261.4L926.2 1262.4L927.5 1261.8L928.8 1262.1L930.0 1261.1L931.2 1262.0L932.5 1261.8L933.8 1262.2L935.0 1261.3L936.2 1262.4L937.5 1261.1L938.8 1262.4L940.0 1261.6L941.2 1262.5L942.5 1261.7L943.8 1262.0L945.0 1261.1L946.2 1262.5L947.5 1261.4L948.8 1262.3L950.0 1261.8L951.2 1262.1L952.5 1261.9L953.8 1262.1L955.0 1261.6L956.2 1262.5L957.5 1261.2L958.8 1262.3L960.0 1261.4L961.2 1262.3L962.5 1261.3L963.8 1262.4L965.0 1261.1L966.2 1262.5L967.5 1261.4L968.8 1262.3L970.0 1261.8L971.2 1262.3L972.5 1261.6L973.8 1262.1L975.0 1261.8L976.2 1262.2L977.5 1261.8L978.8 1262.3L980.0 1261.7L981.2 1262.5L982.5 1261.4L983.8 1262.3L985.0 1261.6L986.2 1262.2L987.5 1261.8L988.8 1262.5L990.0 1261.2L991.2 1262.4L992.5 1261.4L993.8 1262.1L995.0 1261.5L996.2 1262.1L997.5 1261.7L998.8 1262.3L1000.0 1261.8L1001.2 1262.1L1002.5 1261.3L1003.8 1262.3L1005.0 1261.2L1006.2 1262.1L1007.5 1261.9L1008.8 1262.5L1010.0 1261.5L1011.2 1262.4L1012.5 1261.5L1013.8 1262.1L1015.0 1261.1L1016.2 1262.3L1017.5 1261.2L1018.8 1262.1L1020.0 1261.8L1021.2 1262.3L1022.5 1261.8L1023.8 1262.5L1025.0 1261.8L1026.2 1262.0L1027.5 1261.9L1028.8 1262.1L1030.0 1261.1L1031.2 1262.5L1032.5 1261.4L1033.8 1262.2L1035.0 1262.0L1036.2 1262.4L1037.5 1261.9L1038.8 1262.1L1040.0 1261.6L1041.2 1262.5L1042.5 1261.8L1043.8 1262.0L1045.0 1261.2L1046.2 1262.0L1047.5 1261.3L1048.8 1262.1L1050.0 1261.7L1051.2 1262.1L1052.5 1261.6L1053.8 1262.5L1055.0 1261.2L1056.2 1262.3L1057.5 1261.9L1058.8 1262.1L1060.0 1261.7L1061.2 1262.4L1062.5 1261.2L1063.8 1262.0L1065.0 1261.7L1066.2 1262.5L1067.5 1261.9L1068.8 1262.0L1070.0 1261.8L1071.2 1262.5L1072.5 1261.8L1073.8 1262.4L1075.0 1261.9L1076.2 1262.4L1077.5 1261.8L1078.8 1262.3L1080.0 1261.3L1081.2 1262.5L1082.5 1261.6L1083.8 1262.5L1085.0 1261.6L1086.2 1262.5L1087.5 1261.2L1088.8 1262.5L1090.0 1261.9L1091.2 1262.1L1092.5 1261.4L1093.8 1262.5L1095.0 1261.8L1096.2 1262.4L1097.5 1261.6L1098.8 1262.0L1100.0 1261.9L1101.2 1262.0L1102.5 1261.8L1103.8 1262.5L1105.0 1261.4L1106.2 1262.5L1107.5 1261.2L1108.8 1262.2L1110.0 1261.4L1111.2 1262.4L1112.5 1261.4L1113.8 1262.1L1115.0 1261.2L1116.2 1262.1L1117.5 1261.6L1118.8 1262.4L1120.0 1261.3L1121.2 1262.4L1122.5 1261.7L1123.8 1262.2L1125.0 1261.3L1126.2 1262.0L1127.5 1261.2L1128.8 1262.2L1130.0 1261.6L1131.2 1262.2L1132.5 1261.4L1133.8 1262.1L1135.0 1261.9L1136.2 1262.0L1137.5 1261.9L1138.8 1262.3L1140.0 1261.1L1141.2 1262.0L1142.5 1261.6L1143.8 1262.2L1145.0 1261.7L1146.2 1262.2L1147.5 1261.9L1148.8 1262.2L1150.0 1261.8L1151.2 1262.0L1152.5 1261.9L1153.8 1262.5L1155.0 1261.4L1156.2 1262.5L1157.5 1261.3L1158.8 1262.4L1160.0 1261.8L1161.2 1262.1L1162.5 1261.1L1163.8 1262.4L1165.0 1261.3L1166.2 1262.1L1167.5 1261.3L1168.8 1262.3L1170.0 1261.9L1171.2 1262.1L1172.5 1261.1L1173.8 1262.3L1175.0 1261.9L1176.2 1262.0L1177.5 1261.3L1178.8 1262.2L1180.0 1261.6L1181.2 1262.1L1182.5 1261.8L1183.8 1262.3L1185.0 1261.6L1186.2 1262.1L1187.5 1261.9L1188.8 1262.2L1190.0 1261.9L1191.2 1262.0L1192.5 1261.6L1193.8 1262.0L1195.0 1261.3L1196.2 1262.4L1197.5 1261.4L1198.8 1262.5L1200.0 1261.9L1201.2 1262.2L1202.5 1261.6L1203.8 1262.0L1205.0 1261.2L1206.2 1262.0L1207.5 1261.1L1208.8 1262.4L1210.0 1261.1L1211.2 1262.0L1212.5 1261.2L1213.8 1262.5L1215.0 1261.3L1216.2 1262.3L1217.5 1261.4L1218.8 1262.3L1220.0 1261.2L1221.2 1262.3L1222.5 1261.5L1223.8 1262.2L1225.0 1261.4L1226.2 1262.3L1227.5 1261.2L1228.8 1262.4L1230.0 1261.7L1231.2 1262.4L1232.5 1261.8L1233.8 1262.3L1235.0 1261.5L1236.2 1262.4L1237.5 1261.9L1238.8 1262.1L1240.0 1261.8L1241.2 1262.1L1242.5 1261.4L1243.8 1261.7L1245.0 1260.4L1246.2 1261.2L1247.5 1260.5L1248.8 1260.9L1250.0 1260.0L1251.2 1260.4L1252.5 1259.8L1253.8 1260.1L1255.0 1259.2L1256.2 1259.9L1257.5 1258.7L1258.8 1259.3L1260.0 1257.9L1261.2 1259.1L1262.5 1258.4L1263.8 1258.7L1265.0 1257.9L1266.2 1258.4L1267.5 1257.1L1268.8 1257.9L1270.0 1257.0L1271.2 1257.8L1272.5 1257.0L1273.8 1257.7L1275.0 1256.8L1276.2 1257.5L1277.5 1256.4L1278.8 1257.3L1280.0 1257.3L1281.2 1258.7L1282.5 1258.1L1283.8 1259.7L1285.0 1259.4L1286.2 1260.5L1287.5 1260.8L1288.8 1262.0L1290.0 1261.9L1291.2 1262.5L1292.5 1261.9L1293.8 1262.2L1295.0 1261.4L1296.2 1262.0L1297.5 1261.6L1298.8 1262.4L1300.0 1261.7L1301.2 1262.1L1302.5 1261.9L1303.8 1262.5L1305.0 1261.9L1306.2 1262.4L1307.5 1261.4L1308.8 1262.2L1310.0 1261.5L1311.2 1262.4L1312.5 1261.8L1313.8 1262.1L1315.0 1261.2L1316.2 1262.1L1317.5 1261.6L1318.8 1262.2L1320.0 1261.3L1321.2 1262.5L1322.5 1261.3L1323.8 1262.3L1325.0 1261.5L1326.2 1262.0L1327.5 1261.5L1328.8 1262.2L1330.0 1261.3L1331.2 1262.2L1332.5 1261.9L1333.8 1262.2"/>
<path stroke="#ff0000" stroke-width="11.2" d="M1333.8 1262.2C1334.8 1262.2 1333.8 1262.0 1340.0 1262.0C1347.2 1262.0 1369.4 1262.2 1376.8 1262.0C1384.3 1261.8 1382.1 1261.1 1384.7 1260.7C1387.3 1260.2 1390.6 1261.0 1392.6 1259.4C1394.5 1257.7 1395.0 1253.0 1396.5 1250.7C1398.1 1248.4 1400.2 1249.2 1401.8 1245.4C1403.3 1241.7 1404.4 1232.4 1405.7 1228.3C1407.0 1224.3 1408.3 1221.2 1409.7 1221.0C1411.0 1220.8 1412.1 1224.7 1413.6 1227.0C1415.1 1229.4 1417.3 1232.1 1418.9 1234.9C1420.4 1237.8 1421.5 1240.4 1422.8 1244.1C1424.1 1247.8 1425.4 1254.4 1426.8 1257.3C1428.1 1260.1 1428.5 1260.7 1430.7 1261.2C1432.9 1261.7 1436.6 1260.6 1439.9 1260.4C1443.2 1260.2 1447.6 1260.4 1450.4 1259.9C1453.3 1259.4 1454.8 1259.0 1457.0 1257.3C1459.2 1255.5 1461.1 1251.6 1463.6 1249.4C1466.0 1247.2 1468.8 1246.5 1471.4 1244.1C1474.1 1241.7 1477.4 1238.0 1479.3 1234.9C1481.3 1231.9 1482.2 1227.9 1483.3 1225.7C1484.4 1223.5 1484.8 1221.6 1485.9 1221.8C1487.0 1222.0 1488.7 1225.9 1489.8 1227.0C1490.9 1228.2 1491.4 1229.5 1492.5 1228.9C1493.6 1228.2 1494.7 1224.7 1496.4 1223.1C1498.2 1221.5 1501.2 1221.8 1503.0 1219.1C1504.7 1216.5 1505.6 1211.0 1506.9 1207.3C1508.2 1203.6 1509.7 1198.9 1510.9 1196.8C1512.1 1194.7 1512.9 1194.3 1514.0 1194.7C1515.1 1195.1 1516.2 1196.7 1517.4 1199.4C1518.7 1202.2 1519.9 1207.3 1521.4 1211.3C1522.9 1215.2 1524.9 1220.0 1526.6 1223.1C1528.4 1226.2 1529.9 1227.5 1531.9 1229.7C1533.9 1231.9 1536.3 1234.4 1538.5 1236.2C1540.7 1238.1 1543.1 1240.1 1545.0 1241.0C1547.0 1241.8 1548.8 1242.3 1550.3 1241.5C1551.8 1240.7 1553.0 1238.5 1554.2 1236.2C1555.5 1234.0 1556.4 1228.9 1557.7 1227.8C1559.0 1226.7 1560.7 1227.8 1562.1 1229.7C1563.5 1231.5 1564.5 1236.0 1566.1 1238.9C1567.6 1241.7 1569.1 1244.8 1571.3 1246.8C1573.5 1248.7 1576.6 1249.2 1579.2 1250.7C1581.9 1252.2 1584.7 1254.6 1587.1 1256.0C1589.5 1257.3 1591.5 1258.6 1593.7 1258.6C1595.9 1258.6 1598.3 1255.6 1600.3 1256.0C1602.2 1256.3 1603.3 1259.5 1605.5 1260.4C1607.7 1261.3 1610.5 1261.1 1613.4 1261.2C1616.2 1261.3 1620.0 1261.6 1622.6 1261.2C1625.2 1260.8 1627.1 1260.1 1629.2 1258.6C1631.3 1257.0 1633.4 1255.3 1635.2 1252.0C1637.1 1248.7 1638.9 1244.6 1640.2 1238.9C1641.6 1233.2 1642.5 1224.2 1643.4 1217.8C1644.2 1211.4 1644.7 1204.1 1645.2 1200.5C1645.7 1196.9 1646.0 1195.7 1646.5 1196.3C1647.0 1196.9 1647.6 1197.1 1648.1 1204.2C1648.6 1211.3 1648.8 1232.2 1649.4 1238.9C1650.0 1245.5 1650.3 1243.2 1651.5 1244.1C1652.7 1245.0 1655.5 1245.4 1656.8 1244.1C1658.1 1242.8 1658.5 1238.8 1659.4 1236.2C1660.3 1233.7 1661.2 1230.3 1662.0 1228.9C1662.9 1227.5 1663.6 1226.2 1664.7 1227.8C1665.8 1229.5 1667.4 1235.9 1668.6 1238.9C1669.8 1241.8 1670.4 1243.9 1671.8 1245.4C1673.1 1247.0 1674.9 1247.5 1676.5 1248.1C1678.1 1248.6 1679.9 1247.1 1681.2 1248.9C1682.5 1250.6 1683.4 1256.8 1684.4 1258.6C1685.3 1260.3 1685.9 1260.0 1687.0 1259.4C1688.1 1258.7 1689.9 1256.7 1690.9 1254.6C1692.0 1252.5 1692.7 1248.2 1693.6 1246.8C1694.5 1245.3 1695.3 1244.6 1696.2 1245.7C1697.1 1246.8 1697.7 1251.5 1698.8 1253.3C1699.9 1255.2 1700.8 1255.7 1702.8 1256.7C1704.7 1257.7 1708.0 1258.8 1710.7 1259.4C1713.3 1260.0 1714.6 1260.2 1718.5 1260.4C1722.5 1260.6 1729.9 1260.4 1734.3 1260.4C1738.7 1260.5 1741.3 1260.6 1744.8 1260.7C1748.3 1260.8 1752.9 1262.0 1755.4 1261.2C1757.8 1260.4 1758.1 1257.2 1759.3 1256.0C1760.5 1254.7 1761.1 1253.4 1762.5 1253.8C1763.8 1254.3 1765.3 1257.4 1767.2 1258.6C1769.1 1259.8 1770.9 1260.9 1773.8 1261.2C1776.6 1261.5 1780.8 1261.0 1784.3 1260.4C1787.8 1259.9 1791.7 1258.8 1794.8 1257.8C1797.9 1256.8 1800.5 1255.6 1802.7 1254.6C1804.9 1253.7 1806.2 1252.1 1807.9 1252.0C1809.7 1251.9 1811.0 1252.9 1813.2 1253.8C1815.4 1254.8 1819.9 1257.2 1821.2 1257.8"/>
<path stroke="#0000ff" d="M247.5 1109.3L248.8 1109.6L250.0 1108.8L251.2 1109.7L252.5 1109.2L253.8 1109.4L255.0 1109.2L256.2 1109.4L257.5 1108.7L258.8 1109.4L260.0 1108.9L261.2 1109.4L262.5 1109.1L263.8 1109.5L265.0 1108.6L266.2 1109.6L267.5 1109.3L268.8 1109.4L270.0 1109.2L271.2 1109.7L272.5 1108.5L273.8 1109.7L275.0 1108.3L276.2 1109.7L277.5 1108.0L278.8 1109.7L280.0 1108.4L281.2 1109.7L282.5 1108.1L283.8 1109.7L285.0 1107.8L286.2 1109.5L287.5 1107.9L288.8 1109.5L290.0 1107.7L291.2 1109.4L292.5 1107.2L293.8 1109.7L295.0 1106.9L296.2 1109.6L297.5 1107.1L298.8 1109.7L300.0 1107.3L301.2 1109.6L302.5 1106.9L303.8 1109.4L305.0 1106.9L306.2 1109.6L307.5 1107.0L308.8 1109.5L310.0 1106.9L311.2 1109.5L312.5 1107.4L313.8 1109.5L315.0 1107.5L316.2 1109.4L317.5 1107.7L318.8 1109.5L320.0 1107.9L321.2 1109.6L322.5 1107.4L323.8 1109.5L325.0 1107.7L326.2 1109.7L327.5 1108.2L328.8 1109.4L330.0 1107.5L331.2 1109.7L332.5 1107.5L333.8 1109.4L335.0 1107.6L336.2 1109.7L337.5 1107.2L338.8 1109.7L340.0 1107.7L341.2 1109.7L342.5 1107.4L343.8 1109.6L345.0 1107.6L346.2 1109.8L347.5 1107.1L348.8 1109.6L350.0 1107.3L351.2 1109.6L352.5 1107.0L353.8 1109.6L355.0 1107.1L356.2 1109.6L357.5 1107.0L358.8 1109.4L360.0 1107.1L361.2 1109.6L362.5 1107.1L363.8 1109.4L365.0 1107.0L366.2 1109.6L367.5 1106.8L368.8 1109.6L370.0 1107.4L371.2 1109.5L372.5 1107.3L373.8 1109.3L375.0 1107.7L376.2 1109.8L377.5 1107.8L378.8 1109.4L380.0 1107.8L381.2 1109.6L382.5 1108.1L383.8 1109.5L385.0 1108.0L386.2 1109.7L387.5 1108.2L388.8 1109.5L390.0 1107.7L391.2 1109.8L392.5 1107.6L393.8 1109.5L395.0 1107.4L396.2 1109.4L397.5 1107.8L398.8 1109.5L400.0 1107.0L401.2 1109.7L402.5 1107.4L403.8 1109.6L405.0 1106.8L406.2 1109.4L407.5 1106.9L408.8 1109.5L410.0 1107.1L411.2 1109.4L412.5 1107.5L413.8 1109.5L415.0 1108.0L416.2 1109.5L417.5 1108.3L418.8 1109.7L420.0 1108.2L421.2 1109.3L422.5 1107.7L423.8 1109.4L425.0 1107.5L426.2 1109.6L427.5 1107.2L428.8 1109.4L430.0 1106.8L431.2 1109.4L432.5 1106.6L433.8 1109.4L435.0 1106.9L436.2 1109.4L437.5 1107.5L438.8 1109.5L440.0 1107.9L441.2 1109.4L442.5 1107.9L443.8 1109.5L445.0 1107.7L446.2 1109.8L447.5 1108.6L448.8 1109.6L450.0 1108.7L451.2 1109.7L452.5 1108.8L453.8 1109.7L455.0 1108.9L456.2 1109.4L457.5 1109.3L458.8 1109.4L460.0 1108.6L461.2 1109.4L462.5 1108.9L463.8 1109.5L465.0 1109.0L466.2 1109.7L467.5 1109.1L468.8 1109.6L470.0 1108.8L471.2 1109.7L472.5 1108.9L473.8 1109.7L475.0 1108.9L476.2 1109.6L477.5 1108.8L478.8 1109.7L480.0 1108.6L481.2 1109.4L482.5 1109.2L483.8 1109.6L485.0 1108.7L486.2 1109.6L487.5 1109.1L488.8 1109.8L490.0 1109.1L491.2 1109.3L492.5 1109.3L493.8 1109.3L495.0 1108.7L496.2 1109.4L497.5 1108.7L498.8 1109.7L500.0 1108.5L501.2 1109.7L502.5 1109.0L503.8 1109.6L505.0 1108.6L506.2 1109.6L507.5 1109.1L508.8 1109.7L510.0 1109.2L511.2 1109.4L512.5 1108.5L513.8 1109.5L515.0 1109.1L516.2 1109.7L517.5 1108.9L518.8 1109.3L520.0 1109.3L521.2 1109.4L522.5 1109.0L523.8 1109.7L525.0 1109.1L526.2 1109.7L527.5 1108.6L528.8 1109.5L530.0 1108.5L531.2 1109.7L532.5 1108.9L533.8 1109.4L535.0 1108.9L536.2 1109.7L537.5 1108.9L538.8 1109.4L540.0 1109.0L541.2 1109.5L542.5 1109.1L543.8 1109.6L545.0 1109.3L546.2 1109.7L547.5 1109.2L548.8 1109.3L550.0 1108.8L551.2 1109.4L552.5 1108.6L553.8 1109.5L555.0 1108.9L556.2 1109.7L557.5 1109.1L558.8 1109.7L560.0 1108.8L561.2 1109.5L562.5 1108.5L563.8 1109.3L565.0 1108.6L566.2 1109.4L567.5 1108.6L568.8 1109.4L570.0 1109.3L571.2 1109.5L572.5 1108.6L573.8 1109.4L575.0 1108.9L576.2 1109.6L577.5 1109.1L578.8 1109.6L580.0 1109.3L581.2 1109.5L582.5 1108.7L583.8 1109.5L585.0 1109.1L586.2 1109.3L587.5 1108.7L588.8 1109.5L590.0 1108.6L591.2 1109.7L592.5 1109.2L593.8 1109.7L595.0 1108.6L596.2 1109.7L597.5 1108.6L598.8 1109.6L600.0 1108.7L601.2 1109.6L602.5 1108.8L603.8 1109.4L605.0 1109.2L606.2 1109.6L607.5 1108.8L608.8 1109.3L610.0 1108.8L611.2 1109.6L612.5 1108.9L613.8 1109.7L615.0 1108.6L616.2 1109.5L617.5 1108.6L618.8 1109.5L620.0 1108.8L621.2 1109.5L622.5 1108.6L623.8 1109.5L625.0 1108.5L626.2 1109.5L627.5 1108.8L628.8 1109.7L630.0 1108.8L631.2 1109.5L632.5 1109.2L633.8 1109.5L635.0 1109.0L636.2 1109.7L637.5 1108.7L638.8 1109.8L640.0 1108.9L641.2 1109.5L642.5 1108.8L643.8 1109.7L645.0 1109.2L646.2 1109.4L647.5 1109.2L648.8 1109.5L650.0 1109.1L651.2 1109.8L652.5 1109.1L653.8 1109.7L655.0 1109.1L656.2 1109.4L657.5 1108.5L658.8 1109.3L660.0 1109.2L661.2 1109.3L662.5 1109.0L663.8 1109.2L665.0 1108.7L666.2 1108.9L667.5 1108.7L668.8 1108.9L670.0 1108.4L671.2 1108.5L672.5 1107.7L673.8 1108.1L675.0 1106.7L676.2 1107.1L677.5 1105.7L678.8 1106.2L680.0 1104.7L681.2 1105.0L682.5 1104.4L683.8 1104.9L685.0 1104.6L686.2 1105.7L687.5 1105.2L688.8 1106.4L690.0 1106.2L691.2 1107.4L692.5 1107.3L693.8 1107.8L695.0 1107.2L696.2 1107.5L697.5 1106.5L698.8 1107.2L700.0 1106.3L701.2 1106.6L702.5 1106.0L703.8 1106.2L705.0 1105.9L706.2 1106.7L707.5 1105.8L708.8 1106.9L710.0 1106.4L711.2 1107.4L712.5 1107.3L713.8 1107.9L715.0 1107.7L716.2 1108.4L717.5 1107.8L718.8 1108.8L720.0 1108.2L721.2 1109.0L722.5 1108.6L723.8 1109.0L725.0 1108.7L726.2 1109.0L727.5 1108.4L728.8 1109.3L730.0 1109.2L731.2 1109.7L732.5 1108.6L733.8 1109.5L735.0 1109.0L736.2 1109.4L737.5 1109.3L738.8 1109.5L740.0 1109.1L741.2 1109.4L742.5 1108.6L743.8 1109.3L745.0 1109.0L746.2 1109.7L747.5 1108.7L748.8 1109.4L750.0 1108.7L751.2 1109.6L752.5 1108.8L753.8 1109.8L755.0 1108.7L756.2 1109.6L757.5 1108.7L758.8 1109.5L760.0 1108.9L761.2 1109.7L762.5 1108.8L763.8 1109.5L765.0 1109.3L766.2 1109.7L767.5 1109.0L768.8 1109.5L770.0 1109.1L771.2 1109.6L772.5 1109.0L773.8 1109.7L775.0 1108.8L776.2 1109.6L777.5 1108.7L778.8 1109.5L780.0 1108.9L781.2 1109.7L782.5 1108.7L783.8 1109.7L785.0 1108.6L786.2 1109.6L787.5 1108.9L788.8 1109.4L790.0 1109.1L791.2 1109.5L792.5 1108.9L793.8 1109.7L795.0 1109.3L796.2 1109.5L797.5 1108.7L798.8 1109.5L800.0 1108.6L801.2 1109.4L802.5 1108.7L803.8 1109.5L805.0 1108.8L806.2 1109.3L807.5 1109.0L808.8 1109.7L810.0 1108.7L811.2 1109.6L812.5 1109.0L813.8 1109.3L815.0 1108.7L816.2 1109.5L817.5 1108.7L818.8 1109.6L820.0 1109.0L821.2 1109.7L822.5 1109.2L823.8 1109.8L825.0 1109.2L826.2 1109.8L827.5 1108.8L828.8 1109.5L830.0 1108.6L831.2 1109.5L832.5 1108.9L833.8 1109.3L835.0 1108.7L836.2 1109.6L837.5 1109.1L838.8 1109.4L840.0 1109.0L841.2 1109.7L842.5 1108.6L843.8 1109.5L845.0 1109.3L846.2 1109.7L847.5 1109.1L848.8 1109.7L850.0 1108.9L851.2 1109.8L852.5 1109.2L853.8 1109.7L855.0 1108.7L856.2 1109.3L857.5 1108.8L858.8 1109.4L860.0 1108.7L861.2 1109.8L862.5 1108.8L863.8 1109.5L865.0 1108.8L866.2 1109.4L867.5 1108.9L868.8 1109.4L870.0 1108.7L871.2 1109.3L872.5 1108.9L873.8 1109.4L875.0 1108.8L876.2 1109.3L877.5 1109.3L878.8 1109.6L880.0 1108.7L881.2 1109.7L882.5 1108.8L883.8 1109.8L885.0 1109.2L886.2 1109.6L887.5 1108.8L888.8 1109.4L890.0 1109.2L891.2 1109.4L892.5 1108.9L893.8 1109.7L895.0 1108.7L896.2 1109.6L897.5 1109.2L898.8 1109.6L900.0 1108.9L901.2 1109.4L902.5 1108.8L903.8 1109.4L905.0 1109.1L906.2 1109.5L907.5 1108.7L908.8 1109.4L910.0 1108.9L911.2 1109.4L912.5 1108.8L913.8 1109.7L915.0 1109.1L916.2 1109.6L917.5 1108.9L918.8 1109.4L920.0 1109.1L921.2 1109.6L922.5 1108.7L923.8 1109.6L925.0 1109.3L926.2 1109.7L927.5 1108.8L928.8 1109.5L930.0 1109.1L931.2 1109.5L932.5 1108.7L933.8 1109.4L935.0 1109.2L936.2 1109.7L937.5 1108.9L938.8 1109.3L940.0 1108.6L941.2 1109.4L942.5 1109.0L943.8 1109.6L945.0 1108.8L946.2 1109.7L947.5 1109.2L948.8 1109.6L950.0 1108.6L951.2 1109.5L952.5 1108.7L953.8 1109.5L955.0 1108.7L956.2 1109.8L957.5 1109.0L958.8 1109.7L960.0 1109.0L961.2 1109.7L962.5 1108.7L963.8 1109.7L965.0 1108.6L966.2 1109.6L967.5 1108.5L968.8 1109.4L970.0 1108.8L971.2 1109.3L972.5 1108.8L973.8 1109.6L975.0 1109.1L976.2 1109.7L977.5 1109.0L978.8 1109.4L980.0 1109.1L981.2 1109.6L982.5 1109.0L983.8 1109.3L985.0 1109.1L986.2 1109.8L987.5 1108.9L988.8 1109.6L990.0 1109.0L991.2 1109.3L992.5 1108.8L993.8 1109.4L995.0 1109.2L996.2 1109.6L997.5 1108.8L998.8 1109.3L1000.0 1108.5L1001.2 1109.3L1002.5 1109.2L1003.8 1109.5L1005.0 1108.7L1006.2 1109.7L1007.5 1108.7L1008.8 1109.5L1010.0 1108.6L1011.2 1109.4L1012.5 1108.5L1013.8 1109.3L1015.0 1109.2L1016.2 1109.7L1017.5 1108.7L1018.8 1109.6L1020.0 1109.1L1021.2 1109.7L1022.5 1108.9L1023.8 1109.4L1025.0 1109.2L1026.2 1109.8L1027.5 1109.3L1028.8 1109.4L1030.0 1109.0L1031.2 1109.7L1032.5 1108.6L1033.8 1109.7L1035.0 1108.8L1036.2 1109.3L1037.5 1108.7L1038.8 1109.4L1040.0 1108.5L1041.2 1109.8L1042.5 1109.2L1043.8 1109.7L1045.0 1109.1L1046.2 1109.4L1047.5 1108.6L1048.8 1109.5L1050.0 1109.1L1051.2 1109.6L1052.5 1109.2L1053.8 1109.5L1055.0 1108.8L1056.2 1109.7L1057.5 1109.2L1058.8 1109.7L1060.0 1109.2L1061.2 1109.4L1062.5 1109.0L1063.8 1109.4L1065.0 1109.2L1066.2 1109.6L1067.5 1109.0L1068.8 1109.4L1070.0 1108.9L1071.2 1109.4L1072.5 1108.8L1073.8 1109.8L1075.0 1108.9L1076.2 1109.5L1077.5 1109.0L1078.8 1109.5L1080.0 1109.0L1081.2 1109.4L1082.5 1109.1L1083.8 1109.6L1085.0 1108.9L1086.2 1109.3L1087.5 1109.2L1088.8 1109.7L1090.0 1109.0L1091.2 1109.7L1092.5 1108.8L1093.8 1109.6L1095.0 1109.0L1096.2 1109.6L1097.5 1109.0L1098.8 1109.5L1100.0 1108.5L1101.2 1109.4L1102.5 1109.1L1103.8 1109.7L1105.0 1108.6L1106.2 1109.7L1107.5 1108.6L1108.8 1109.3L1110.0 1108.7L1111.2 1109.4L1112.5 1108.6L1113.8 1109.5L1115.0 1108.9L1116.2 1109.5L1117.5 1109.1L1118.8 1109.6L1120.0 1108.6L1121.2 1109.5L1122.5 1108.9L1123.8 1109.5L1125.0 1109.1L1126.2 1109.4L1127.5 1108.6L1128.8 1109.8L1130.0 1109.0L1131.2 1109.4L1132.5 1109.0L1133.8 1109.7L1135.0 1109.1L1136.2 1109.4L1137.5 1109.0L1138.8 1109.3L1140.0 1109.2L1141.2 1109.4L1142.5 1108.8L1143.8 1109.7L1145.0 1109.1L1146.2 1109.4L1147.5 1108.8L1148.8 1109.3L1150.0 1109.2L1151.2 1109.6L1152.5 1108.9L1153.8 1109.5L1155.0 1109.0L1156.2 1109.3L1157.5 1109.1L1158.8 1109.4L1160.0 1109.1L1161.2 1109.3L1162.5 1108.6L1163.8 1109.3L1165.0 1109.0L1166.2 1109.4L1167.5 1109.1L1168.8 1109.7L1170.0 1108.5L1171.2 1109.8L1172.5 1109.0L1173.8 1109.6L1175.0 1109.0L1176.2 1109.3L1177.5 1109.0L1178.8 1109.6L1180.0 1109.0L1181.2 1109.7L1182.5 1108.9L1183.8 1109.4L1185.0 1108.6L1186.2 1109.6L1187.5 1109.1L1188.8 1109.7L1190.0 1108.9L1191.2 1109.6L1192.5 1108.9L1193.8 1109.7L1195.0 1108.7L1196.2 1109.5L1197.5 1109.0L1198.8 1109.7L1200.0 1108.6L1201.2 1109.6L1202.5 1108.6L1203.8 1109.6L1205.0 1109.0L1206.2 1109.5L1207.5 1109.1L1208.8 1109.4L1210.0 1108.6L1211.2 1109.6L1212.5 1109.2L1213.8 1109.4L1215.0 1109.0L1216.2 1109.7L1217.5 1108.6L1218.8 1109.7L1220.0 1109.1L1221.2 1109.5L1222.5 1108.5L1223.8 1109.5L1225.0 1108.8L1226.2 1109.3L1227.5 1108.9L1228.8 1109.5L1230.0 1108.6L1231.2 1109.8L1232.5 1108.7L1233.8 1109.5L1235.0 1108.6L1236.2 1109.7L1237.5 1109.2L1238.8 1109.5L1240.0 1108.9L1241.2 1109.2L1242.5 1108.7L1243.8 1109.1L1245.0 1108.3L1246.2 1108.5L1247.5 1108.0L1248.8 1108.1L1250.0 1106.9L1251.2 1107.4L1252.5 1107.1L1253.8 1107.3L1255.0 1105.8L1256.2 1106.5L1257.5 1105.7L1258.8 1105.8L1260.0 1104.7L1261.2 1105.3L1262.5 1104.5L1263.8 1105.3L1265.0 1105.1L1266.2 1105.5L1267.5 1104.7L1268.8 1106.0L1270.0 1105.3L1271.2 1106.2L1272.5 1105.3L1273.8 1106.4L1275.0 1106.2L1276.2 1106.6L1277.5 1106.3L1278.8 1107.2L1280.0 1106.9L1281.2 1107.6L1282.5 1107.0L1283.8 1108.2L1285.0 1107.8L1286.2 1108.8L1287.5 1108.5L1288.8 1109.2L1290.0 1108.9L1291.2 1109.5L1292.5 1109.2L1293.8 1109.4L1295.0 1109.3L1296.2 1109.7L1297.5 1109.1L1298.8 1109.7L1300.0 1108.8L1301.2 1109.8L1302.5 1108.9L1303.8 1109.4L1305.0 1109.2L1306.2 1109.6L1307.5 1108.7L1308.8 1109.6L1310.0 1108.6L1311.2 1109.3L1312.5 1108.8L1313.8 1109.6L1315.0 1108.5L1316.2 1109.4L1317.5 1108.6L1318.8 1109.3L1320.0 1108.8L1321.2 1109.5L1322.5 1108.9L1323.8 1109.4L1325.0 1109.0L1326.2 1109.5L1327.5 1108.9L1328.8 1109.5L1330.0 1109.1L1331.2 1109.4L1332.5 1108.9L1333.8 1109.8"/>
<path stroke="#0000ff" stroke-width="11.2" d="M1333.8 1109.8C1334.8 1109.7 1333.8 1109.4 1340.0 1109.4C1347.6 1109.3 1371.3 1109.5 1379.4 1109.4C1387.5 1109.2 1386.2 1109.4 1388.6 1108.6C1391.0 1107.8 1392.4 1106.6 1393.9 1104.6C1395.4 1102.7 1396.4 1099.2 1397.8 1096.8C1399.3 1094.3 1401.3 1093.7 1402.6 1090.2C1403.9 1086.7 1404.5 1079.5 1405.7 1075.7C1406.9 1071.9 1408.3 1067.7 1409.7 1067.3C1411.0 1066.9 1412.1 1070.2 1413.6 1073.1C1415.1 1076.0 1417.3 1081.2 1418.9 1084.9C1420.4 1088.6 1421.5 1091.9 1422.8 1095.4C1424.1 1098.9 1425.3 1103.6 1426.8 1106.0C1428.2 1108.3 1429.3 1109.1 1431.5 1109.4C1433.7 1109.7 1436.7 1108.2 1439.9 1107.8C1443.0 1107.4 1447.6 1107.5 1450.4 1106.7C1453.3 1106.0 1454.8 1105.2 1457.0 1103.3C1459.2 1101.4 1461.1 1097.8 1463.6 1095.4C1466.0 1093.0 1469.0 1091.3 1471.4 1088.9C1473.9 1086.5 1476.3 1083.8 1478.0 1081.0C1479.8 1078.1 1480.6 1074.5 1482.0 1071.8C1483.3 1069.1 1484.7 1064.2 1485.9 1064.7C1487.1 1065.1 1488.2 1072.3 1489.3 1074.4C1490.4 1076.5 1491.1 1077.3 1492.5 1077.0C1493.9 1076.8 1495.8 1074.8 1497.7 1073.1C1499.7 1071.3 1502.5 1069.6 1504.3 1066.5C1506.1 1063.5 1507.1 1058.2 1508.2 1054.7C1509.4 1051.2 1510.4 1047.5 1511.4 1045.5C1512.4 1043.5 1513.2 1042.2 1514.3 1042.9C1515.4 1043.5 1517.0 1046.1 1518.2 1049.4C1519.5 1052.7 1520.5 1058.9 1521.9 1062.6C1523.3 1066.3 1524.8 1069.4 1526.6 1071.8C1528.5 1074.2 1531.0 1075.3 1533.2 1077.0C1535.4 1078.8 1537.8 1080.5 1539.8 1082.3C1541.8 1084.0 1543.3 1086.6 1545.0 1087.5C1546.8 1088.5 1548.8 1089.0 1550.3 1088.1C1551.8 1087.2 1553.0 1084.6 1554.2 1082.3C1555.5 1080.0 1556.4 1075.3 1557.7 1074.4C1559.0 1073.5 1560.6 1075.1 1562.1 1077.0C1563.6 1079.0 1564.9 1083.4 1566.6 1086.2C1568.4 1089.1 1570.3 1092.2 1572.6 1094.1C1575.0 1096.1 1578.1 1096.7 1580.5 1098.1C1582.9 1099.5 1584.9 1101.4 1587.1 1102.5C1589.3 1103.6 1591.4 1104.4 1593.7 1104.6C1596.0 1104.9 1598.8 1103.6 1600.8 1104.1C1602.7 1104.6 1603.4 1106.9 1605.5 1107.8C1607.6 1108.7 1610.3 1109.1 1613.4 1109.4C1616.5 1109.6 1621.3 1109.9 1623.9 1109.4C1626.5 1108.8 1627.3 1107.4 1629.2 1106.0C1631.1 1104.5 1633.4 1103.5 1635.2 1100.7C1637.1 1097.8 1638.9 1094.3 1640.2 1088.9C1641.6 1083.4 1642.5 1073.8 1643.4 1067.8C1644.2 1061.9 1644.7 1056.2 1645.2 1053.1C1645.7 1050.0 1646.0 1048.6 1646.5 1049.4C1647.0 1050.3 1647.6 1052.0 1648.1 1058.1C1648.6 1064.2 1648.8 1080.5 1649.4 1086.2C1650.0 1092.0 1650.3 1091.7 1651.5 1092.8C1652.7 1093.9 1655.5 1094.1 1656.8 1092.8C1658.1 1091.5 1658.5 1087.8 1659.4 1084.9C1660.3 1082.1 1661.2 1077.5 1662.0 1075.7C1662.9 1074.0 1663.6 1073.1 1664.7 1074.4C1665.8 1075.7 1667.4 1080.8 1668.6 1083.6C1669.8 1086.5 1670.2 1089.7 1671.8 1091.5C1673.3 1093.3 1676.1 1093.3 1677.8 1094.6C1679.5 1096.0 1680.7 1097.5 1681.7 1099.4C1682.8 1101.3 1683.4 1104.7 1684.4 1106.0C1685.3 1107.2 1686.3 1107.4 1687.5 1106.7C1688.8 1106.1 1690.4 1103.2 1691.7 1102.0C1693.0 1100.8 1694.2 1099.0 1695.4 1099.4C1696.6 1099.7 1697.2 1103.0 1698.8 1104.1C1700.5 1105.2 1703.0 1105.3 1705.4 1106.0C1707.8 1106.6 1710.7 1107.6 1713.3 1108.1C1715.9 1108.5 1717.7 1109.0 1721.2 1108.8C1724.7 1108.7 1730.4 1107.3 1734.3 1107.3C1738.3 1107.2 1741.3 1108.2 1744.8 1108.6C1748.3 1108.9 1752.9 1109.8 1755.4 1109.4C1757.8 1108.9 1758.1 1106.7 1759.3 1106.0C1760.5 1105.2 1760.9 1104.3 1762.5 1104.6C1764.0 1104.9 1766.2 1107.1 1768.5 1107.8C1770.8 1108.5 1773.3 1108.8 1776.4 1108.8C1779.4 1108.8 1783.4 1108.4 1786.9 1107.8C1790.4 1107.2 1794.6 1106.1 1797.4 1105.2C1800.3 1104.2 1802.1 1103.1 1804.0 1102.0C1805.9 1101.0 1807.2 1098.9 1808.7 1098.9C1810.3 1098.9 1811.1 1100.8 1813.2 1102.0C1815.3 1103.2 1819.9 1105.3 1821.2 1106.0"/>
<path stroke="#ff00ff" d="M247.5 955.8L248.8 956.2L250.0 954.8L251.2 956.3L252.5 955.2L253.8 955.9L255.0 954.7L256.2 956.2L257.5 955.1L258.8 956.2L260.0 955.0L261.2 956.2L262.5 955.3L263.8 955.9L265.0 954.6L266.2 956.0L267.5 955.2L268.8 956.2L270.0 954.8L271.2 955.9L272.5 952.6L273.8 956.2L275.0 955.3L276.2 956.2L277.5 955.3L278.8 956.0L280.0 955.3L281.2 955.9L282.5 954.5L283.8 956.0L285.0 954.5L286.2 956.0L287.5 954.9L288.8 956.3L290.0 954.8L291.2 955.9L292.5 952.6L293.8 956.1L295.0 955.2L296.2 957.4L297.5 949.0L298.8 956.1L300.0 955.2L301.2 956.0L302.5 955.2L303.8 950.6L305.0 954.9L306.2 955.9L307.5 948.7L308.8 955.8L310.0 955.1L311.2 955.8L312.5 943.2L313.8 957.1L315.0 954.9L316.2 949.5L317.5 955.0L318.8 951.5L320.0 954.9L321.2 956.0L322.5 949.5L323.8 956.0L325.0 954.9L326.2 955.9L327.5 947.1L328.8 955.9L330.0 954.6L331.2 949.0L332.5 955.3L333.8 955.9L335.0 959.7L336.2 961.3L337.5 959.7L338.8 951.9L340.0 954.6L341.2 956.0L342.5 955.1L343.8 956.1L345.0 954.6L346.2 955.9L347.5 955.1L348.8 955.9L350.0 954.8L351.2 954.2L352.5 955.2L353.8 956.0L355.0 955.4L356.2 956.0L357.5 938.9L358.8 956.1L360.0 955.1L361.2 958.2L362.5 955.1L363.8 955.9L365.0 939.6L366.2 955.9L367.5 955.2L368.8 955.9L370.0 954.6L371.2 955.9L372.5 952.2L373.8 956.1L375.0 954.6L376.2 958.2L377.5 954.7L378.8 956.0L380.0 954.9L381.2 953.0L382.5 954.6L383.8 956.2L385.0 954.9L386.2 958.2L387.5 955.1L388.8 948.7L390.0 954.5L391.2 956.1L392.5 945.1L393.8 956.0L395.0 954.6L396.2 949.0L397.5 955.2L398.8 956.3L400.0 951.5L401.2 957.1L402.5 955.2L403.8 950.3L405.0 955.2L406.2 956.2L407.5 955.3L408.8 955.9L410.0 946.8L411.2 956.1L412.5 945.1L413.8 956.2L415.0 955.2L416.2 945.9L417.5 955.0L418.8 955.9L420.0 951.5L421.2 955.9L422.5 954.7L423.8 957.1L425.0 954.8L426.2 955.9L427.5 954.8L428.8 956.2L430.0 955.1L431.2 956.3L432.5 954.8L433.8 956.1L435.0 953.7L436.2 957.1L437.5 955.2L438.8 956.1L440.0 954.6L441.2 951.9L442.5 955.3L443.8 956.2L445.0 954.6L446.2 956.1L447.5 955.3L448.8 956.3L450.0 955.0L451.2 956.3L452.5 954.6L453.8 956.2L455.0 954.7L456.2 955.8L457.5 954.7L458.8 956.0L460.0 953.4L461.2 956.0L462.5 954.9L463.8 957.1L465.0 955.0L466.2 956.2L467.5 955.0L468.8 956.1L470.0 953.4L471.2 956.3L472.5 955.2L473.8 956.2L475.0 954.8L476.2 955.8L477.5 954.5L478.8 955.9L480.0 954.5L481.2 956.3L482.5 954.6L483.8 956.3L485.0 955.0L486.2 956.0L487.5 955.1L488.8 956.3L490.0 955.4L491.2 955.9L492.5 954.5L493.8 956.2L495.0 954.8L496.2 956.3L497.5 954.9L498.8 956.3L500.0 955.0L501.2 956.3L502.5 955.3L503.8 956.0L505.0 954.9L506.2 956.2L507.5 955.0L508.8 956.2L510.0 954.5L511.2 956.0L512.5 955.2L513.8 955.8L515.0 954.6L516.2 956.1L517.5 955.1L518.8 956.1L520.0 955.3L521.2 955.9L522.5 955.2L523.8 955.9L525.0 954.6L526.2 955.9L527.5 955.3L528.8 956.3L530.0 954.9L531.2 955.8L532.5 954.8L533.8 956.2L535.0 954.8L536.2 956.2L537.5 955.0L538.8 955.9L540.0 954.7L541.2 956.1L542.5 954.8L543.8 955.9L545.0 955.1L546.2 956.2L547.5 955.1L548.8 956.1L550.0 955.0L551.2 956.2L552.5 955.1L553.8 956.1L555.0 954.7L556.2 956.0L557.5 955.2L558.8 956.1L560.0 955.3L561.2 956.3L562.5 955.2L563.8 956.3L565.0 954.9L566.2 955.9L567.5 954.9L568.8 956.2L570.0 955.0L571.2 956.1L572.5 955.1L573.8 956.3L575.0 955.2L576.2 956.2L577.5 955.4L578.8 956.1L580.0 955.3L581.2 955.9L582.5 954.9L583.8 956.3L585.0 955.1L586.2 956.0L587.5 955.0L588.8 956.1L590.0 955.1L591.2 956.0L592.5 954.6L593.8 956.1L595.0 955.1L596.2 956.2L597.5 954.5L598.8 956.0L600.0 955.4L601.2 956.0L602.5 954.6L603.8 955.9L605.0 955.2L606.2 956.2L607.5 955.3L608.8 956.3L610.0 955.2L611.2 956.0L612.5 954.9L613.8 955.9L615.0 954.7L616.2 956.0L617.5 954.7L618.8 956.2L620.0 955.3L621.2 956.2L622.5 954.7L623.8 955.9L625.0 954.9L626.2 955.9L627.5 954.9L628.8 956.2L630.0 955.1L631.2 956.1L632.5 955.3L633.8 956.3L635.0 954.8L636.2 956.2L637.5 955.3L638.8 956.2L640.0 955.3L641.2 956.1L642.5 955.2L643.8 956.3L645.0 955.3L646.2 956.1L647.5 955.0L648.8 956.0L650.0 955.3L651.2 956.2L652.5 954.5L653.8 956.0L655.0 954.6L656.2 956.0L657.5 955.2L658.8 956.0L660.0 954.5L661.2 956.1L662.5 954.5L663.8 955.4L665.0 954.4L666.2 955.0L667.5 954.4L668.8 954.9L670.0 953.9L671.2 954.4L672.5 953.2L673.8 953.9L675.0 951.7L676.2 952.8L677.5 951.0L678.8 951.3L680.0 949.3L681.2 950.2L682.5 948.7L683.8 950.1L685.0 949.3L686.2 951.2L687.5 950.1L688.8 952.1L690.0 951.6L691.2 953.1L692.5 952.2L693.8 953.4L695.0 951.9L696.2 952.2L697.5 950.9L698.8 951.2L700.0 949.3L701.2 950.2L702.5 949.0L703.8 949.8L705.0 949.4L706.2 950.7L707.5 950.4L708.8 951.7L710.0 951.7L711.2 953.0L712.5 952.2L713.8 953.9L715.0 952.8L716.2 954.5L717.5 953.8L718.8 955.2L720.0 954.3L721.2 955.6L722.5 954.2L723.8 955.6L725.0 954.6L726.2 956.0L727.5 954.9L728.8 956.3L730.0 955.0L731.2 955.9L732.5 955.4L733.8 956.3L735.0 955.0L736.2 956.2L737.5 954.8L738.8 956.3L740.0 954.6L741.2 956.3L742.5 954.9L743.8 956.3L745.0 955.1L746.2 955.9L747.5 954.8L748.8 955.8L750.0 954.5L751.2 956.0L752.5 955.0L753.8 956.0L755.0 955.1L756.2 956.1L757.5 954.7L758.8 955.8L760.0 955.1L761.2 955.9L762.5 954.5L763.8 956.0L765.0 955.0L766.2 956.3L767.5 955.1L768.8 956.0L770.0 955.0L771.2 955.9L772.5 954.8L773.8 956.0L775.0 954.9L776.2 956.1L777.5 954.7L778.8 956.2L780.0 955.0L781.2 956.3L782.5 954.5L783.8 956.3L785.0 954.8L786.2 956.0L787.5 955.1L788.8 956.3L790.0 955.0L791.2 956.2L792.5 955.1L793.8 956.0L795.0 955.4L796.2 956.2L797.5 955.1L798.8 956.1L800.0 954.7L801.2 956.2L802.5 954.5L803.8 956.2L805.0 955.2L806.2 956.3L807.5 955.4L808.8 956.0L810.0 954.6L811.2 956.3L812.5 954.9L813.8 956.3L815.0 955.2L816.2 955.8L817.5 955.1L818.8 956.3L820.0 955.4L821.2 956.0L822.5 954.9L823.8 955.9L825.0 954.6L826.2 955.9L827.5 955.3L828.8 956.3L830.0 955.4L831.2 955.9L832.5 955.0L833.8 956.3L835.0 955.1L836.2 956.1L837.5 954.7L838.8 956.1L840.0 954.7L841.2 955.8L842.5 954.9L843.8 955.8L845.0 954.6L846.2 955.8L847.5 955.3L848.8 956.0L850.0 954.8L851.2 955.8L852.5 954.8L853.8 955.9L855.0 955.1L856.2 955.8L857.5 954.7L858.8 956.2L860.0 954.7L861.2 956.0L862.5 955.2L863.8 956.3L865.0 954.7L866.2 956.3L867.5 955.0L868.8 956.3L870.0 954.8L871.2 956.2L872.5 954.9L873.8 956.2L875.0 955.0L876.2 955.9L877.5 955.0L878.8 955.8L880.0 954.8L881.2 956.0L882.5 955.2L883.8 956.2L885.0 954.9L886.2 956.0L887.5 954.6L888.8 956.3L890.0 955.0L891.2 956.1L892.5 955.4L893.8 956.0L895.0 954.5L896.2 956.1L897.5 954.5L898.8 955.8L900.0 955.4L901.2 955.8L902.5 955.3L903.8 956.2L905.0 954.5L906.2 956.2L907.5 954.9L908.8 956.0L910.0 955.1L911.2 955.9L912.5 955.0L913.8 955.9L915.0 954.7L916.2 956.1L917.5 955.1L918.8 956.3L920.0 955.1L921.2 956.3L922.5 954.8L923.8 956.1L925.0 954.9L926.2 956.1L927.5 954.6L928.8 956.3L930.0 954.9L931.2 956.3L932.5 955.2L933.8 956.3L935.0 954.6L936.2 956.1L937.5 955.3L938.8 956.3L940.0 955.1L941.2 956.0L942.5 954.5L943.8 955.8L945.0 954.8L946.2 955.9L947.5 954.6L948.8 955.9L950.0 955.3L951.2 956.1L952.5 955.0L953.8 956.2L955.0 955.1L956.2 956.0L957.5 955.1L958.8 956.1L960.0 955.3L961.2 956.1L962.5 954.4L963.8 956.2L965.0 954.6L966.2 956.1L967.5 954.4L968.8 956.1L970.0 953.5L971.2 955.8L972.5 953.3L973.8 956.3L975.0 953.5L976.2 956.0L977.5 953.2L978.8 955.9L980.0 953.5L981.2 956.1L982.5 953.3L983.8 955.9L985.0 953.5L986.2 956.1L987.5 952.9L988.8 955.9L990.0 953.1L991.2 956.1L992.5 953.4L993.8 956.0L995.0 952.9L996.2 955.9L997.5 953.1L998.8 956.1L1000.0 953.5L1001.2 956.0L1002.5 953.4L1003.8 956.0L1005.0 953.5L1006.2 956.1L1007.5 952.8L1008.8 956.3L1010.0 952.7L1011.2 955.9L1012.5 952.8L1013.8 956.0L1015.0 952.8L1016.2 956.1L1017.5 952.8L1018.8 956.0L1020.0 952.6L1021.2 956.1L1022.5 952.7L1023.8 955.9L1025.0 952.7L1026.2 955.9L1027.5 953.0L1028.8 956.0L1030.0 952.8L1031.2 956.1L1032.5 953.1L1033.8 956.3L1035.0 953.3L1036.2 956.1L1037.5 953.2L1038.8 955.9L1040.0 953.1L1041.2 956.3L1042.5 953.2L1043.8 956.2L1045.0 952.7L1046.2 956.3L1047.5 952.5L1048.8 955.9L1050.0 952.4L1051.2 955.9L1052.5 953.2L1053.8 955.9L1055.0 952.8L1056.2 956.1L1057.5 952.9L1058.8 955.9L1060.0 953.1L1061.2 956.0L1062.5 952.8L1063.8 956.1L1065.0 953.1L1066.2 956.0L1067.5 953.7L1068.8 955.9L1070.0 953.7L1071.2 956.2L1072.5 953.8L1073.8 956.1L1075.0 953.8L1076.2 955.9L1077.5 953.9L1078.8 956.1L1080.0 953.5L1081.2 956.2L1082.5 953.8L1083.8 956.0L1085.0 953.9L1086.2 956.0L1087.5 953.5L1088.8 956.3L1090.0 953.8L1091.2 955.9L1092.5 953.4L1093.8 956.1L1095.0 953.6L1096.2 955.8L1097.5 953.0L1098.8 955.8L1100.0 952.7L1101.2 956.2L1102.5 952.9L1103.8 956.3L1105.0 952.8L1106.2 956.3L1107.5 952.9L1108.8 955.8L1110.0 952.6L1111.2 956.1L1112.5 952.5L1113.8 955.9L1115.0 952.5L1116.2 956.0L1117.5 952.4L1118.8 956.2L1120.0 952.6L1121.2 955.8L1122.5 953.3L1123.8 955.8L1125.0 953.1L1126.2 955.8L1127.5 953.4L1128.8 955.8L1130.0 952.7L1131.2 956.1L1132.5 953.4L1133.8 955.9L1135.0 953.3L1136.2 955.9L1137.5 952.9L1138.8 956.3L1140.0 952.9L1141.2 955.8L1142.5 953.1L1143.8 956.3L1145.0 953.2L1146.2 956.2L1147.5 953.6L1148.8 956.1L1150.0 952.9L1151.2 956.0L1152.5 953.4L1153.8 956.3L1155.0 952.7L1156.2 956.0L1157.5 952.7L1158.8 955.9L1160.0 952.7L1161.2 956.2L1162.5 952.6L1163.8 956.0L1165.0 952.4L1166.2 956.0L1167.5 953.0L1168.8 955.9L1170.0 953.5L1171.2 956.2L1172.5 954.4L1173.8 956.3L1175.0 954.8L1176.2 955.8L1177.5 954.5L1178.8 956.3L1180.0 955.1L1181.2 956.1L1182.5 955.1L1183.8 955.9L1185.0 955.3L1186.2 956.3L1187.5 955.1L1188.8 955.9L1190.0 955.2L1191.2 956.0L1192.5 954.5L1193.8 955.9L1195.0 955.2L1196.2 955.8L1197.5 954.7L1198.8 955.9L1200.0 954.6L1201.2 956.3L1202.5 955.1L1203.8 956.1L1205.0 954.6L1206.2 956.1L1207.5 955.1L1208.8 956.3L1210.0 954.5L1211.2 955.9L1212.5 954.6L1213.8 955.8L1215.0 954.6L1216.2 956.0L1217.5 954.5L1218.8 955.8L1220.0 955.2L1221.2 956.0L1222.5 954.9L1223.8 956.2L1225.0 955.3L1226.2 955.8L1227.5 955.2L1228.8 955.9L1230.0 954.5L1231.2 956.1L1232.5 955.2L1233.8 956.0L1235.0 955.2L1236.2 955.9L1237.5 954.8L1238.8 955.6L1240.0 954.5L1241.2 955.3L1242.5 953.6L1243.8 955.0L1245.0 954.0L1246.2 954.6L1247.5 953.0L1248.8 954.0L1250.0 952.6L1251.2 953.5L1252.5 952.7L1253.8 952.9L1255.0 951.4L1256.2 952.3L1257.5 951.1L1258.8 951.9L1260.0 950.5L1261.2 951.5L1262.5 949.8L1263.8 950.7L1265.0 949.8L1266.2 950.6L1267.5 949.2L1268.8 950.4L1270.0 949.2L1271.2 950.3L1272.5 949.2L1273.8 950.2L1275.0 949.2L1276.2 951.1L1277.5 950.7L1278.8 953.1L1280.0 952.4L1281.2 954.5L1282.5 954.3L1283.8 956.0L1285.0 954.5L1286.2 956.1L1287.5 955.2L1288.8 956.1L1290.0 954.9L1291.2 955.0L1292.5 953.0L1293.8 953.0L1295.0 950.7L1296.2 951.4L1297.5 951.3L1298.8 953.3L1300.0 953.7L1301.2 955.6L1302.5 955.3L1303.8 956.3L1305.0 954.9L1306.2 956.1L1307.5 955.1L1308.8 956.1L1310.0 955.3L1311.2 955.9L1312.5 954.9L1313.8 956.0L1315.0 954.9L1316.2 956.1L1317.5 954.5L1318.8 956.2L1320.0 955.4L1321.2 956.2L1322.5 955.1L1323.8 955.9L1325.0 955.1L1326.2 956.3L1327.5 954.7L1328.8 956.0L1330.0 954.6L1331.2 956.1L1332.5 955.3L1333.8 956.2"/>
<path stroke="#ff00ff" stroke-width="11.2" d="M1333.8 956.2C1334.8 956.1 1337.6 955.7 1340.0 955.7C1342.4 955.7 1345.3 956.3 1347.9 956.2C1350.5 956.1 1353.4 955.5 1355.8 954.9C1358.2 954.2 1360.6 952.1 1362.3 952.2C1364.1 952.4 1364.3 955.1 1366.3 955.7C1368.3 956.2 1371.1 956.1 1374.2 955.7C1377.2 955.2 1381.6 953.7 1384.7 953.0C1387.8 952.3 1390.6 953.6 1392.6 951.5C1394.5 949.3 1395.0 943.8 1396.5 940.4C1398.1 937.0 1400.2 936.5 1401.8 931.2C1403.3 926.0 1404.4 915.2 1405.7 908.9C1407.0 902.5 1408.3 894.4 1409.7 893.1C1411.0 891.8 1412.1 897.7 1413.6 901.0C1415.1 904.3 1417.3 908.9 1418.9 912.8C1420.4 916.8 1421.6 919.6 1422.8 924.6C1424.0 929.7 1424.9 938.9 1426.2 943.0C1427.5 947.2 1428.6 948.7 1430.7 949.6C1432.8 950.5 1435.3 948.7 1438.6 948.3C1441.9 947.9 1447.3 947.9 1450.4 947.0C1453.5 946.1 1454.8 945.0 1457.0 943.0C1459.2 941.1 1461.1 937.8 1463.6 935.2C1466.0 932.5 1469.0 930.6 1471.4 927.3C1473.9 924.0 1476.3 919.8 1478.0 915.4C1479.8 911.1 1480.6 905.4 1482.0 901.0C1483.3 896.6 1484.7 888.7 1485.9 889.1C1487.1 889.6 1488.2 901.0 1489.3 903.6C1490.4 906.2 1491.3 906.2 1492.5 904.9C1493.7 903.6 1494.7 898.1 1496.4 895.7C1498.2 893.3 1501.2 894.0 1503.0 890.5C1504.7 887.0 1505.7 880.2 1506.9 874.7C1508.2 869.2 1509.3 861.5 1510.3 857.6C1511.4 853.7 1512.3 850.8 1513.5 851.0C1514.7 851.2 1516.1 854.5 1517.4 858.9C1518.8 863.3 1520.1 871.6 1521.4 877.3C1522.7 883.0 1523.8 888.9 1525.3 893.1C1526.9 897.3 1528.8 899.0 1530.6 902.3C1532.3 905.6 1533.9 910.0 1535.8 912.8C1537.8 915.7 1540.4 917.4 1542.4 919.4C1544.4 921.4 1546.0 924.4 1547.7 924.6C1549.3 924.9 1551.1 923.8 1552.4 920.7C1553.7 917.6 1554.5 909.3 1555.6 906.2C1556.6 903.2 1557.5 901.9 1558.7 902.3C1559.9 902.7 1561.5 905.4 1562.9 908.9C1564.4 912.4 1565.8 919.6 1567.4 923.3C1569.0 927.0 1570.5 929.0 1572.6 931.2C1574.8 933.4 1578.1 934.5 1580.5 936.5C1582.9 938.4 1584.9 941.5 1587.1 943.0C1589.3 944.6 1591.5 945.7 1593.7 945.7C1595.9 945.7 1598.3 942.1 1600.3 943.0C1602.2 944.0 1603.3 949.8 1605.5 951.5C1607.7 953.1 1610.5 952.6 1613.4 953.0C1616.2 953.5 1620.0 954.9 1622.6 954.1C1625.2 953.3 1627.2 950.1 1629.2 948.3C1631.1 946.5 1632.6 947.0 1634.4 943.0C1636.2 939.1 1638.5 933.4 1639.9 924.6C1641.4 915.9 1642.2 900.2 1643.1 890.5C1644.0 880.7 1644.7 871.2 1645.5 866.3C1646.2 861.3 1646.9 859.6 1647.6 860.8C1648.2 861.9 1648.8 863.2 1649.4 873.4C1650.0 883.6 1650.4 912.6 1651.0 922.0C1651.6 931.4 1652.0 928.4 1653.1 929.9C1654.1 931.4 1656.2 933.0 1657.3 931.2C1658.4 929.5 1659.1 923.3 1659.9 919.4C1660.8 915.4 1661.7 909.7 1662.6 907.5C1663.4 905.4 1664.2 904.3 1665.2 906.2C1666.2 908.2 1667.6 915.2 1668.6 919.4C1669.6 923.5 1669.9 928.9 1671.2 931.2C1672.5 933.5 1674.7 932.4 1676.5 933.0C1678.2 933.7 1680.5 933.0 1681.7 935.2C1683.0 937.3 1683.1 943.0 1683.8 945.7C1684.6 948.3 1685.2 950.0 1686.5 950.9C1687.8 951.9 1690.5 953.2 1691.7 951.5C1693.0 949.7 1693.4 944.1 1694.1 940.4C1694.8 936.7 1695.2 929.4 1695.7 929.4C1696.2 929.4 1696.7 937.3 1697.3 940.4C1697.8 943.6 1697.7 946.8 1699.1 948.3C1700.5 949.8 1703.0 948.8 1705.4 949.6C1707.8 950.4 1710.7 952.3 1713.3 953.0C1715.9 953.8 1716.8 953.9 1721.2 954.1C1725.6 954.3 1734.8 953.8 1739.6 954.1C1744.4 954.3 1747.2 955.4 1750.1 955.7C1752.9 955.9 1755.0 957.1 1756.7 955.7C1758.3 954.2 1758.9 948.7 1759.8 947.0C1760.8 945.2 1761.4 944.5 1762.5 945.1C1763.5 945.8 1764.5 949.2 1766.4 950.9C1768.3 952.7 1770.3 955.2 1773.8 955.7C1777.2 956.1 1783.4 954.6 1786.9 953.6C1790.4 952.5 1792.8 950.5 1794.8 949.6C1796.8 948.7 1797.4 948.1 1798.7 948.3C1800.0 948.5 1801.4 951.6 1802.7 950.9C1804.0 950.3 1805.3 945.9 1806.6 944.4C1807.9 942.8 1809.5 941.5 1810.6 941.7C1811.7 941.9 1811.4 944.3 1813.2 945.7C1815.0 947.0 1819.9 949.0 1821.2 949.7"/>
<path stroke="#008000" d="M247.5 803.6L248.8 803.6L250.0 803.0L251.2 803.7L252.5 802.8L253.8 803.6L255.0 802.9L256.2 803.9L257.5 802.9L258.8 804.1L260.0 803.4L261.2 803.8L262.5 803.0L263.8 803.7L265.0 803.4L266.2 803.7L267.5 802.9L268.8 804.0L270.0 803.0L271.2 803.7L272.5 802.9L273.8 803.8L275.0 803.4L276.2 803.8L277.5 803.3L278.8 803.6L280.0 803.1L281.2 803.8L282.5 803.1L283.8 804.0L285.0 803.1L286.2 803.8L287.5 802.9L288.8 804.1L290.0 803.2L291.2 804.1L292.5 803.6L293.8 803.7L295.0 803.5L296.2 804.1L297.5 803.0L298.8 803.9L300.0 803.4L301.2 803.8L302.5 802.9L303.8 803.6L305.0 803.5L306.2 803.6L307.5 803.2L308.8 804.0L310.0 803.2L311.2 803.8L312.5 803.2L313.8 803.7L315.0 802.8L316.2 803.8L317.5 803.4L318.8 803.7L320.0 802.9L321.2 803.8L322.5 802.9L323.8 803.8L325.0 803.2L326.2 803.6L327.5 802.9L328.8 804.0L330.0 803.2L331.2 803.7L332.5 803.2L333.8 803.8L335.0 802.9L336.2 804.0L337.5 803.0L338.8 803.7L340.0 803.6L341.2 804.0L342.5 802.8L343.8 803.7L345.0 803.2L346.2 803.8L347.5 802.8L348.8 803.6L350.0 803.6L351.2 804.0L352.5 803.1L353.8 803.8L355.0 803.0L356.2 803.9L357.5 803.0L358.8 803.7L360.0 803.5L361.2 803.6L362.5 803.3L363.8 803.9L365.0 803.3L366.2 803.8L367.5 803.1L368.8 803.9L370.0 803.1L371.2 803.7L372.5 802.9L373.8 804.0L375.0 802.9L376.2 804.0L377.5 803.6L378.8 803.9L380.0 803.3L381.2 803.8L382.5 803.2L383.8 803.7L385.0 803.4L386.2 804.1L387.5 803.3L388.8 804.0L390.0 803.1L391.2 803.8L392.5 803.3L393.8 803.9L395.0 803.0L396.2 803.8L397.5 803.6L398.8 803.7L400.0 802.9L401.2 803.9L402.5 803.5L403.8 804.0L405.0 803.1L406.2 803.8L407.5 802.9L408.8 803.7L410.0 803.5L411.2 803.8L412.5 803.0L413.8 803.9L415.0 803.2L416.2 804.0L417.5 803.3L418.8 804.0L420.0 803.6L421.2 804.0L422.5 803.5L423.8 803.9L425.0 802.9L426.2 803.9L427.5 803.1L428.8 803.9L430.0 803.0L431.2 803.8L432.5 803.4L433.8 803.9L435.0 803.2L436.2 803.7L437.5 803.2L438.8 803.8L440.0 803.5L441.2 803.9L442.5 803.0L443.8 803.8L445.0 802.9L446.2 804.1L447.5 803.1L448.8 803.8L450.0 803.4L451.2 803.7L452.5 803.4L453.8 804.1L455.0 803.6L456.2 804.0L457.5 803.0L458.8 804.0L460.0 803.5L461.2 803.9L462.5 803.4L463.8 803.9L465.0 803.0L466.2 803.9L467.5 803.2L468.8 804.0L470.0 803.4L471.2 803.7L472.5 802.9L473.8 803.6L475.0 803.3L476.2 803.8L477.5 802.9L478.8 803.8L480.0 803.1L481.2 803.8L482.5 803.2L483.8 803.8L485.0 803.2L486.2 803.9L487.5 803.3L488.8 803.8L490.0 802.9L491.2 804.1L492.5 803.4L493.8 804.1L495.0 803.6L496.2 803.8L497.5 802.9L498.8 803.7L500.0 803.1L501.2 804.1L502.5 803.1L503.8 803.8L505.0 803.6L506.2 803.8L507.5 803.2L508.8 804.0L510.0 803.3L511.2 804.0L512.5 803.3L513.8 803.9L515.0 803.0L516.2 803.7L517.5 802.8L518.8 803.8L520.0 803.2L521.2 804.1L522.5 803.1L523.8 803.8L525.0 803.4L526.2 803.7L527.5 803.0L528.8 803.8L530.0 803.1L531.2 803.9L532.5 803.1L533.8 803.8L535.0 802.9L536.2 803.8L537.5 803.5L538.8 804.0L540.0 802.9L541.2 803.7L542.5 802.9L543.8 803.9L545.0 803.4L546.2 803.9L547.5 802.9L548.8 803.7L550.0 803.1L551.2 803.7L552.5 803.5L553.8 804.1L555.0 802.8L556.2 803.9L557.5 803.0L558.8 803.8L560.0 803.3L561.2 803.9L562.5 802.9L563.8 803.9L565.0 803.2L566.2 803.9L567.5 803.3L568.8 804.0L570.0 802.9L571.2 804.0L572.5 803.3L573.8 803.8L575.0 802.8L576.2 803.8L577.5 803.1L578.8 803.6L580.0 803.5L581.2 803.7L582.5 803.1L583.8 803.7L585.0 803.1L586.2 803.6L587.5 803.0L588.8 803.9L590.0 803.4L591.2 803.7L592.5 803.4L593.8 803.8L595.0 803.5L596.2 803.7L597.5 803.0L598.8 804.0L600.0 803.5L601.2 803.8L602.5 803.1L603.8 804.1L605.0 803.2L606.2 803.9L607.5 803.0L608.8 804.0L610.0 803.0L611.2 803.9L612.5 803.0L613.8 803.6L615.0 803.0L616.2 803.7L617.5 803.3L618.8 803.8L620.0 803.2L621.2 803.9L622.5 803.1L623.8 803.8L625.0 803.3L626.2 803.9L627.5 802.9L628.8 803.8L630.0 803.6L631.2 804.0L632.5 802.9L633.8 804.0L635.0 803.1L636.2 803.8L637.5 803.5L638.8 804.0L640.0 803.3L641.2 803.7L642.5 803.1L643.8 803.6L645.0 803.3L646.2 803.9L647.5 803.0L648.8 803.8L650.0 803.4L651.2 803.8L652.5 802.9L653.8 803.6L655.0 803.5L656.2 803.8L657.5 802.8L658.8 804.0L660.0 802.8L661.2 803.5L662.5 802.9L663.8 803.2L665.0 802.5L666.2 803.2L667.5 802.3L668.8 802.8L670.0 801.8L671.2 802.4L672.5 801.6L673.8 801.7L675.0 800.7L676.2 801.4L677.5 799.8L678.8 800.7L680.0 799.2L681.2 799.8L682.5 798.8L683.8 799.4L685.0 799.1L686.2 800.2L687.5 799.7L688.8 801.3L690.0 801.0L691.2 802.0L692.5 801.3L693.8 802.3L695.0 801.6L696.2 801.6L697.5 801.0L698.8 801.4L700.0 800.4L701.2 800.6L702.5 799.5L703.8 800.1L705.0 799.1L706.2 799.9L707.5 799.3L708.8 800.0L710.0 799.1L711.2 800.0L712.5 799.0L713.8 799.9L715.0 799.5L716.2 800.0L717.5 798.8L718.8 799.7L720.0 799.5L721.2 800.1L722.5 800.0L723.8 800.6L725.0 800.1L726.2 800.6L727.5 800.3L728.8 801.2L730.0 800.9L731.2 801.5L732.5 800.8L733.8 801.9L735.0 800.8L736.2 802.2L737.5 801.6L738.8 802.1L740.0 801.9L741.2 802.4L742.5 801.8L743.8 802.8L745.0 802.3L746.2 803.3L747.5 802.7L748.8 803.7L750.0 802.8L751.2 803.8L752.5 803.5L753.8 803.7L755.0 803.0L756.2 803.8L757.5 803.1L758.8 804.0L760.0 803.1L761.2 804.0L762.5 803.3L763.8 803.6L765.0 803.4L766.2 804.0L767.5 803.4L768.8 803.7L770.0 803.5L771.2 804.1L772.5 803.4L773.8 803.6L775.0 803.3L776.2 803.6L777.5 803.0L778.8 803.9L780.0 803.3L781.2 803.9L782.5 803.6L783.8 804.0L785.0 803.1L786.2 804.0L787.5 803.5L788.8 804.1L790.0 802.8L791.2 803.8L792.5 803.3L793.8 803.8L795.0 803.0L796.2 803.8L797.5 803.2L798.8 804.1L800.0 803.0L801.2 803.8L802.5 802.9L803.8 804.0L805.0 803.6L806.2 803.8L807.5 803.4L808.8 803.7L810.0 803.3L811.2 804.0L812.5 803.1L813.8 803.7L815.0 803.5L816.2 803.7L817.5 803.3L818.8 803.9L820.0 803.2L821.2 803.8L822.5 803.2L823.8 803.7L825.0 802.8L826.2 803.7L827.5 803.3L828.8 803.9L830.0 802.9L831.2 803.8L832.5 803.1L833.8 803.7L835.0 803.6L836.2 804.1L837.5 803.5L838.8 804.0L840.0 803.6L841.2 803.7L842.5 803.2L843.8 804.0L845.0 803.0L846.2 803.7L847.5 803.6L848.8 804.0L850.0 803.0L851.2 804.0L852.5 803.5L853.8 803.9L855.0 803.1L856.2 804.0L857.5 802.9L858.8 804.0L860.0 802.9L861.2 803.6L862.5 802.8L863.8 803.9L865.0 802.9L866.2 803.7L867.5 803.2L868.8 804.0L870.0 802.8L871.2 803.9L872.5 802.9L873.8 803.6L875.0 803.5L876.2 803.7L877.5 802.9L878.8 803.9L880.0 803.3L881.2 804.0L882.5 803.2L883.8 803.7L885.0 802.8L886.2 804.0L887.5 802.8L888.8 804.0L890.0 803.2L891.2 804.0L892.5 803.5L893.8 803.6L895.0 803.4L896.2 804.1L897.5 803.5L898.8 804.0L900.0 803.2L901.2 803.7L902.5 803.4L903.8 803.9L905.0 803.3L906.2 804.0L907.5 803.6L908.8 803.9L910.0 802.9L911.2 803.7L912.5 803.4L913.8 803.9L915.0 803.5L916.2 803.9L917.5 802.9L918.8 803.8L920.0 803.5L921.2 804.0L922.5 803.6L923.8 804.0L925.0 803.3L926.2 804.0L927.5 803.3L928.8 804.1L930.0 803.1L931.2 803.9L932.5 803.5L933.8 803.9L935.0 803.4L936.2 803.9L937.5 803.3L938.8 803.7L940.0 803.5L941.2 803.7L942.5 803.5L943.8 803.7L945.0 803.2L946.2 804.0L947.5 803.0L948.8 803.8L950.0 802.9L951.2 803.8L952.5 803.3L953.8 803.9L955.0 803.1L956.2 803.8L957.5 803.1L958.8 803.7L960.0 803.4L961.2 803.8L962.5 803.2L963.8 803.7L965.0 803.1L966.2 803.6L967.5 803.3L968.8 803.8L970.0 803.1L971.2 803.7L972.5 803.1L973.8 803.8L975.0 802.9L976.2 803.7L977.5 803.3L978.8 804.0L980.0 802.9L981.2 804.0L982.5 802.9L983.8 803.8L985.0 803.4L986.2 803.7L987.5 803.1L988.8 803.9L990.0 803.3L991.2 803.7L992.5 802.9L993.8 803.8L995.0 803.4L996.2 804.0L997.5 803.0L998.8 803.9L1000.0 803.0L1001.2 803.9L1002.5 803.1L1003.8 803.8L1005.0 803.5L1006.2 804.0L1007.5 803.5L1008.8 804.0L1010.0 803.3L1011.2 804.0L1012.5 802.9L1013.8 804.0L1015.0 803.6L1016.2 804.0L1017.5 803.4L1018.8 803.7L1020.0 802.8L1021.2 804.0L1022.5 803.5L1023.8 804.0L1025.0 803.4L1026.2 803.9L1027.5 802.9L1028.8 803.6L1030.0 803.5L1031.2 803.7L1032.5 803.5L1033.8 804.0L1035.0 803.6L1036.2 803.8L1037.5 802.9L1038.8 803.6L1040.0 803.2L1041.2 804.0L1042.5 802.9L1043.8 804.0L1045.0 803.6L1046.2 803.6L1047.5 803.0L1048.8 803.8L1050.0 803.2L1051.2 803.9L1052.5 803.0L1053.8 803.7L1055.0 802.8L1056.2 803.7L1057.5 802.9L1058.8 803.6L1060.0 803.6L1061.2 803.9L1062.5 803.0L1063.8 803.9L1065.0 803.5L1066.2 804.0L1067.5 802.9L1068.8 804.0L1070.0 803.0L1071.2 803.6L1072.5 803.2L1073.8 803.7L1075.0 803.4L1076.2 803.8L1077.5 802.9L1078.8 803.9L1080.0 802.8L1081.2 803.8L1082.5 803.5L1083.8 804.0L1085.0 802.9L1086.2 803.8L1087.5 803.4L1088.8 803.9L1090.0 803.4L1091.2 803.8L1092.5 803.1L1093.8 803.9L1095.0 803.0L1096.2 803.6L1097.5 803.3L1098.8 803.8L1100.0 803.4L1101.2 803.6L1102.5 803.4L1103.8 803.8L1105.0 803.1L1106.2 804.1L1107.5 803.4L1108.8 803.9L1110.0 803.4L1111.2 803.7L1112.5 803.4L1113.8 803.8L1115.0 802.9L1116.2 803.7L1117.5 802.8L1118.8 804.0L1120.0 803.3L1121.2 804.0L1122.5 803.4L1123.8 803.6L1125.0 803.2L1126.2 803.9L1127.5 803.1L1128.8 803.6L1130.0 803.6L1131.2 803.9L1132.5 802.9L1133.8 803.8L1135.0 803.0L1136.2 803.7L1137.5 803.5L1138.8 803.8L1140.0 802.8L1141.2 803.7L1142.5 803.2L1143.8 803.9L1145.0 803.6L1146.2 804.0L1147.5 803.4L1148.8 804.0L1150.0 803.1L1151.2 803.6L1152.5 803.4L1153.8 803.8L1155.0 803.6L1156.2 804.0L1157.5 803.3L1158.8 803.7L1160.0 803.4L1161.2 803.9L1162.5 803.3L1163.8 803.9L1165.0 803.4L1166.2 803.7L1167.5 803.4L1168.8 803.8L1170.0 803.5L1171.2 803.6L1172.5 802.8L1173.8 804.1L1175.0 803.6L1176.2 804.0L1177.5 803.4L1178.8 803.9L1180.0 803.2L1181.2 803.6L1182.5 803.3L1183.8 803.8L1185.0 803.2L1186.2 803.9L1187.5 803.3L1188.8 803.8L1190.0 803.5L1191.2 803.9L1192.5 803.1L1193.8 803.7L1195.0 803.2L1196.2 803.8L1197.5 803.2L1198.8 803.7L1200.0 803.2L1201.2 803.9L1202.5 802.8L1203.8 804.0L1205.0 803.0L1206.2 803.8L1207.5 803.2L1208.8 803.8L1210.0 803.1L1211.2 804.0L1212.5 803.0L1213.8 804.1L1215.0 803.0L1216.2 804.0L1217.5 803.2L1218.8 803.7L1220.0 803.3L1221.2 803.9L1222.5 803.2L1223.8 803.8L1225.0 803.6L1226.2 804.1L1227.5 803.3L1228.8 803.8L1230.0 802.9L1231.2 803.8L1232.5 803.0L1233.8 803.6L1235.0 803.2L1236.2 803.6L1237.5 803.2L1238.8 804.0L1240.0 803.4L1241.2 803.8L1242.5 802.8L1243.8 803.4L1245.0 803.0L1246.2 803.3L1247.5 802.2L1248.8 803.2L1250.0 801.8L1251.2 802.6L1252.5 801.5L1253.8 801.8L1255.0 800.4L1256.2 800.8L1257.5 799.5L1258.8 799.8L1260.0 798.8L1261.2 799.3L1262.5 798.4L1263.8 798.2L1265.0 797.0L1266.2 796.9L1267.5 795.9L1268.8 795.9L1270.0 794.1L1271.2 794.2L1272.5 792.7L1273.8 791.7L1275.0 789.6L1276.2 789.0L1277.5 786.8L1278.8 786.0L1280.0 786.5L1281.2 789.3L1282.5 790.6L1283.8 793.7L1285.0 794.5L1286.2 797.2L1287.5 798.8L1288.8 801.5L1290.0 801.6L1291.2 802.5L1292.5 802.6L1293.8 803.4L1295.0 803.1L1296.2 803.9L1297.5 802.9L1298.8 803.7L1300.0 803.1L1301.2 804.1L1302.5 803.3L1303.8 803.8L1305.0 803.3L1306.2 803.6L1307.5 803.4L1308.8 804.0L1310.0 803.3L1311.2 803.7L1312.5 802.9L1313.8 803.6L1315.0 803.3L1316.2 803.7L1317.5 803.3L1318.8 803.7L1320.0 803.0L1321.2 803.7L1322.5 803.1L1323.8 803.7L1325.0 802.9L1326.2 803.7L1327.5 803.0L1328.8 803.7L1330.0 803.3L1331.2 803.9L1332.5 803.5L1333.8 803.9"/>
<path stroke="#008000" stroke-width="11.2" d="M1333.8 803.9C1334.8 803.9 1334.6 803.8 1340.0 803.8C1345.4 803.9 1359.7 804.5 1366.3 804.4C1372.9 804.3 1375.5 803.7 1379.4 803.3C1383.4 802.9 1387.3 803.4 1389.9 802.0C1392.6 800.6 1393.5 797.0 1395.2 794.6C1396.9 792.3 1398.4 792.0 1399.9 788.1C1401.5 784.1 1402.8 775.1 1404.4 771.0C1406.0 766.8 1407.9 762.9 1409.7 763.1C1411.4 763.3 1413.2 768.3 1414.9 772.3C1416.7 776.2 1418.4 782.4 1420.2 786.8C1421.9 791.1 1423.7 796.0 1425.4 798.6C1427.2 801.2 1427.8 802.1 1430.7 802.5C1433.5 803.0 1439.0 801.6 1442.5 801.2C1446.0 800.8 1449.3 800.8 1451.7 799.9C1454.1 799.0 1455.2 798.1 1457.0 796.0C1458.7 793.8 1460.0 789.2 1462.2 786.8C1464.4 784.3 1467.7 783.2 1470.1 781.5C1472.5 779.7 1474.7 778.4 1476.7 776.2C1478.7 774.0 1480.4 771.0 1482.0 768.3C1483.5 765.7 1484.7 760.0 1485.9 760.5C1487.1 760.9 1488.1 768.8 1489.3 771.0C1490.5 773.2 1491.6 774.0 1493.0 773.6C1494.4 773.2 1495.8 770.8 1497.7 768.3C1499.6 765.9 1502.3 762.7 1504.3 759.1C1506.3 755.6 1508.2 750.2 1509.6 747.3C1510.9 744.5 1511.3 743.3 1512.2 742.1C1513.1 740.8 1513.7 739.3 1514.8 740.0C1515.9 740.6 1517.4 742.8 1518.8 746.0C1520.1 749.2 1521.4 755.9 1522.7 759.1C1524.0 762.4 1524.9 763.7 1526.6 765.7C1528.4 767.7 1531.0 769.0 1533.2 771.0C1535.4 772.9 1537.8 775.6 1539.8 777.5C1541.8 779.5 1543.3 781.9 1545.0 782.8C1546.8 783.7 1548.8 783.9 1550.3 782.8C1551.8 781.7 1553.0 778.3 1554.2 776.2C1555.5 774.2 1556.4 770.7 1557.7 770.5C1559.0 770.2 1560.5 772.9 1562.1 774.9C1563.8 777.0 1565.4 780.4 1567.4 782.8C1569.4 785.2 1571.6 787.6 1574.0 789.4C1576.4 791.1 1579.2 791.9 1581.9 793.3C1584.5 794.7 1586.9 796.6 1589.7 797.8C1592.6 799.0 1595.9 799.6 1598.9 800.4C1602.0 801.2 1605.3 802.1 1608.1 802.5C1611.0 803.0 1613.4 802.8 1616.0 803.0C1618.7 803.3 1621.7 804.5 1623.9 803.8C1626.1 803.2 1627.3 801.1 1629.2 799.4C1631.1 797.6 1633.4 796.7 1635.2 793.3C1637.0 789.9 1638.7 784.3 1639.9 778.9C1641.2 773.4 1642.1 765.5 1642.8 760.5C1643.6 755.4 1644.2 751.1 1644.7 748.4C1645.2 745.7 1645.5 743.6 1646.0 744.2C1646.5 744.8 1647.1 746.3 1647.6 752.1C1648.1 757.8 1648.3 772.9 1648.9 778.9C1649.5 784.9 1649.7 786.3 1651.0 788.1C1652.3 789.8 1655.4 790.7 1656.8 789.4C1658.2 788.1 1658.5 783.5 1659.4 780.2C1660.3 776.9 1661.2 771.5 1662.0 769.7C1662.8 767.8 1663.3 767.8 1664.1 768.9C1665.0 770.0 1666.2 773.3 1667.3 776.2C1668.4 779.1 1669.2 784.3 1670.7 786.2C1672.2 788.2 1674.6 786.4 1676.5 788.1C1678.3 789.7 1680.2 793.6 1681.7 796.0C1683.3 798.3 1684.2 801.3 1685.7 802.0C1687.2 802.7 1687.7 800.8 1690.9 800.4C1694.2 800.1 1701.2 799.5 1705.4 799.9C1709.6 800.2 1711.1 802.3 1715.9 802.5C1720.7 802.7 1729.1 801.2 1734.3 801.2C1739.6 801.2 1743.1 802.4 1747.5 802.5C1751.8 802.7 1757.3 802.3 1760.6 802.0C1763.9 801.7 1765.0 800.5 1767.2 800.7C1769.4 800.9 1770.5 802.8 1773.8 803.0C1777.0 803.3 1783.0 802.6 1786.9 802.0C1790.8 801.4 1794.6 800.5 1797.4 799.4C1800.3 798.2 1802.1 796.3 1804.0 795.2C1805.9 794.0 1807.2 792.4 1808.7 792.5C1810.3 792.7 1811.1 794.7 1813.2 796.0C1815.3 797.2 1819.9 799.3 1821.2 800.0"/>
</g>
<g class="tk">
<text x="247.5" y="1586.6">4000</text>
<text x="471.2" y="1586.6">3500</text>
<text x="694.9" y="1586.6">3000</text>
<text x="918.6" y="1586.6">2500</text>
<text x="1142.3" y="1586.6">2000</text>
<text x="1366.0" y="1586.6">1500</text>
<text x="1589.7" y="1586.6">1000</text>
<text x="1813.4" y="1586.6">500</text>
</g>
<text class="ttl" x="1012" y="1716.2">1/cm</text>
<text class="ttl" transform="translate(105.6 854) rotate(-90)">Absorbance</text>
<g stroke-width="10.5" stroke-linecap="round" fill="none" shape-rendering="crispEdges">
<path stroke="#000000" d="M259 56.5 H409.9"/>
<path stroke="#ff0000" d="M259 149.9 H409.9"/>
<path stroke="#0000ff" d="M259 262.2 H409.9"/>
<path stroke="#ff00ff" d="M259 374.5 H409.9"/>
<path stroke="#008000" d="M259 486.8 H409.9"/>
</g>
<text class="lg" x="430" y="79.7">PVDF<tspan class="ss" dy="-31.9">dense</tspan></text>
<text class="lg" x="428" y="172.7">PVDF+TiO<tspan class="ss" dy="23">2</tspan><tspan dy="-23">(0.5%)</tspan><tspan class="ss" dy="-31.8">dense</tspan></text>
<text class="lg" x="428" y="285.0">PVDF+GO-TiO<tspan class="ss" dy="23">2</tspan><tspan dy="-23">(0.5%)</tspan><tspan class="ss" dy="-31.8">dense</tspan></text>
<text class="lg" x="428" y="397.3">PVDF+MWCNT/TiO<tspan class="ss" dy="23">2</tspan><tspan dy="-23">(0.5%)</tspan><tspan class="ss" dy="-31.8">dense</tspan></text>
<text class="lg" x="428" y="509.6">PVDF+Ag-TiO<tspan class="ss" dy="23">2</tspan><tspan dy="-23">(0.5%)</tspan><tspan class="ss" dy="-31.8">dense</tspan></text>
</svg></body></html>
